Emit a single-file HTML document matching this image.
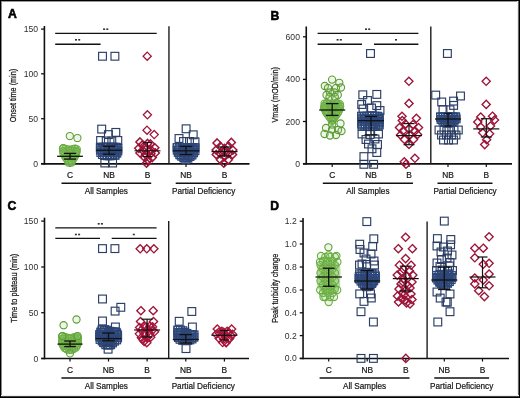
<!DOCTYPE html>
<html><head><meta charset="utf-8"><style>
html,body{margin:0;padding:0;background:#fff;}
body{width:520px;height:398px;overflow:hidden;position:relative;font-family:"Liberation Sans",sans-serif;}
svg{position:absolute;left:0;top:0;display:block;filter:blur(0.35px);}
.bd{position:absolute;background:#000;}
</style></head><body>
<svg width="520" height="398" viewBox="0 0 520 398" font-family="Liberation Sans, sans-serif">
<rect width="520" height="398" fill="#fff"/>
<line x1="44.40" y1="26.00" x2="44.40" y2="164.65" stroke="#111" stroke-width="1.6"/>
<line x1="41.10" y1="163.90" x2="249.50" y2="163.90" stroke="#111" stroke-width="1.6"/>
<line x1="168.95" y1="26.30" x2="168.95" y2="163.90" stroke="#1c1c1c" stroke-width="1.4"/>
<line x1="41.10" y1="29.10" x2="44.40" y2="29.10" stroke="#111" stroke-width="1.3"/>
<text x="38.10" y="32.10" font-size="8.6" text-anchor="end" fill="#2e2e2e" font-weight="normal" >150</text>
<line x1="41.10" y1="73.80" x2="44.40" y2="73.80" stroke="#111" stroke-width="1.3"/>
<text x="38.10" y="76.80" font-size="8.6" text-anchor="end" fill="#2e2e2e" font-weight="normal" >100</text>
<line x1="41.10" y1="118.70" x2="44.40" y2="118.70" stroke="#111" stroke-width="1.3"/>
<text x="38.10" y="121.70" font-size="8.6" text-anchor="end" fill="#2e2e2e" font-weight="normal" >50</text>
<line x1="41.10" y1="163.60" x2="44.40" y2="163.60" stroke="#111" stroke-width="1.3"/>
<text x="38.10" y="166.60" font-size="8.6" text-anchor="end" fill="#2e2e2e" font-weight="normal" >0</text>
<line x1="70.00" y1="163.90" x2="70.00" y2="166.90" stroke="#111" stroke-width="1.2"/>
<text x="70.00" y="177.90" font-size="8.4" text-anchor="middle" fill="#161616" font-weight="normal" stroke="#161616" stroke-width="0.2">C</text>
<line x1="109.00" y1="163.90" x2="109.00" y2="166.90" stroke="#111" stroke-width="1.2"/>
<text x="109.00" y="177.90" font-size="8.4" text-anchor="middle" fill="#161616" font-weight="normal" stroke="#161616" stroke-width="0.2">NB</text>
<line x1="147.50" y1="163.90" x2="147.50" y2="166.90" stroke="#111" stroke-width="1.2"/>
<text x="147.50" y="177.90" font-size="8.4" text-anchor="middle" fill="#161616" font-weight="normal" stroke="#161616" stroke-width="0.2">B</text>
<line x1="186.00" y1="163.90" x2="186.00" y2="166.90" stroke="#111" stroke-width="1.2"/>
<text x="186.00" y="177.90" font-size="8.4" text-anchor="middle" fill="#161616" font-weight="normal" stroke="#161616" stroke-width="0.2">NB</text>
<line x1="224.50" y1="163.90" x2="224.50" y2="166.90" stroke="#111" stroke-width="1.2"/>
<text x="224.50" y="177.90" font-size="8.4" text-anchor="middle" fill="#161616" font-weight="normal" stroke="#161616" stroke-width="0.2">B</text>
<line x1="61.50" y1="183.30" x2="151.20" y2="183.30" stroke="#111" stroke-width="1.45"/>
<line x1="175.70" y1="183.30" x2="231.60" y2="183.30" stroke="#111" stroke-width="1.45"/>
<text x="106.35" y="193.70" font-size="8.2" text-anchor="middle" fill="#161616" font-weight="normal" stroke="#161616" stroke-width="0.2">All Samples</text>
<text x="203.65" y="193.70" font-size="8.2" text-anchor="middle" fill="#161616" font-weight="normal" stroke="#161616" stroke-width="0.2">Partial Deficiency</text>
<text transform="translate(16.40,95.60) rotate(-90)" x="0" y="0" font-size="8.8" text-anchor="middle" fill="#161616" stroke="#161616" stroke-width="0.25" textLength="53.5" lengthAdjust="spacingAndGlyphs">Onset time (min)</text>
<text x="12.50" y="17.80" font-size="12.2" text-anchor="middle" fill="#000" font-weight="bold" stroke="#000" stroke-width="0.55">A</text>
<line x1="55.20" y1="33.30" x2="156.70" y2="33.30" stroke="#111" stroke-width="1.35"/>
<rect x="103.10" y="28.40" width="2.0" height="1.6" fill="#333"/>
<rect x="106.30" y="28.40" width="2.0" height="1.6" fill="#333"/>
<line x1="55.20" y1="44.20" x2="100.60" y2="44.20" stroke="#111" stroke-width="1.35"/>
<rect x="75.00" y="39.00" width="2.0" height="1.6" fill="#333"/>
<rect x="78.20" y="39.00" width="2.0" height="1.6" fill="#333"/>
<circle cx="69.80" cy="136.00" r="3.6" fill="#8cc868" fill-opacity="0.16" stroke="#5f9c38" stroke-width="1.05"/>
<circle cx="77.40" cy="138.00" r="3.6" fill="#8cc868" fill-opacity="0.16" stroke="#5f9c38" stroke-width="1.05"/>
<circle cx="63.30" cy="148.20" r="3.6" fill="#8cc868" fill-opacity="0.16" stroke="#5f9c38" stroke-width="1.05"/>
<circle cx="63.00" cy="148.60" r="3.6" fill="#8cc868" fill-opacity="0.16" stroke="#6aae42" stroke-width="1.05"/>
<circle cx="75.00" cy="148.60" r="3.6" fill="#8cc868" fill-opacity="0.16" stroke="#6aae42" stroke-width="1.05"/>
<circle cx="64.20" cy="151.00" r="3.6" fill="#8cc868" fill-opacity="0.16" stroke="#6aae42" stroke-width="1.05"/>
<circle cx="66.60" cy="151.00" r="3.6" fill="#8cc868" fill-opacity="0.16" stroke="#6aae42" stroke-width="1.05"/>
<circle cx="69.00" cy="151.00" r="3.6" fill="#8cc868" fill-opacity="0.16" stroke="#6aae42" stroke-width="1.05"/>
<circle cx="71.40" cy="151.00" r="3.6" fill="#8cc868" fill-opacity="0.16" stroke="#6aae42" stroke-width="1.05"/>
<circle cx="73.80" cy="151.00" r="3.6" fill="#8cc868" fill-opacity="0.16" stroke="#6aae42" stroke-width="1.05"/>
<circle cx="76.20" cy="151.00" r="3.6" fill="#8cc868" fill-opacity="0.16" stroke="#6aae42" stroke-width="1.05"/>
<circle cx="65.40" cy="153.40" r="3.6" fill="#8cc868" fill-opacity="0.16" stroke="#6aae42" stroke-width="1.05"/>
<circle cx="67.80" cy="153.40" r="3.6" fill="#8cc868" fill-opacity="0.16" stroke="#6aae42" stroke-width="1.05"/>
<circle cx="70.20" cy="153.40" r="3.6" fill="#8cc868" fill-opacity="0.16" stroke="#6aae42" stroke-width="1.05"/>
<circle cx="72.60" cy="153.40" r="3.6" fill="#8cc868" fill-opacity="0.16" stroke="#6aae42" stroke-width="1.05"/>
<circle cx="75.00" cy="153.40" r="3.6" fill="#8cc868" fill-opacity="0.16" stroke="#6aae42" stroke-width="1.05"/>
<circle cx="66.60" cy="155.80" r="3.6" fill="#8cc868" fill-opacity="0.16" stroke="#6aae42" stroke-width="1.05"/>
<circle cx="69.00" cy="155.80" r="3.6" fill="#8cc868" fill-opacity="0.16" stroke="#6aae42" stroke-width="1.05"/>
<circle cx="71.40" cy="155.80" r="3.6" fill="#8cc868" fill-opacity="0.16" stroke="#6aae42" stroke-width="1.05"/>
<circle cx="73.80" cy="155.80" r="3.6" fill="#8cc868" fill-opacity="0.16" stroke="#6aae42" stroke-width="1.05"/>
<circle cx="67.80" cy="158.20" r="3.6" fill="#8cc868" fill-opacity="0.16" stroke="#6aae42" stroke-width="1.05"/>
<circle cx="70.20" cy="158.20" r="3.6" fill="#8cc868" fill-opacity="0.16" stroke="#6aae42" stroke-width="1.05"/>
<circle cx="72.60" cy="158.20" r="3.6" fill="#8cc868" fill-opacity="0.16" stroke="#6aae42" stroke-width="1.05"/>
<circle cx="69.00" cy="160.60" r="3.6" fill="#8cc868" fill-opacity="0.16" stroke="#6aae42" stroke-width="1.05"/>
<circle cx="71.40" cy="160.60" r="3.6" fill="#8cc868" fill-opacity="0.16" stroke="#6aae42" stroke-width="1.05"/>
<circle cx="63.00" cy="148.60" r="3.6" fill="#8cc868" fill-opacity="0.16" stroke="#6aae42" stroke-width="1.05"/>
<circle cx="65.46" cy="148.85" r="3.6" fill="#8cc868" fill-opacity="0.16" stroke="#6aae42" stroke-width="1.05"/>
<circle cx="67.87" cy="149.29" r="3.6" fill="#8cc868" fill-opacity="0.16" stroke="#6aae42" stroke-width="1.05"/>
<circle cx="70.21" cy="149.93" r="3.6" fill="#8cc868" fill-opacity="0.16" stroke="#6aae42" stroke-width="1.05"/>
<circle cx="72.56" cy="149.15" r="3.6" fill="#8cc868" fill-opacity="0.16" stroke="#6aae42" stroke-width="1.05"/>
<circle cx="74.99" cy="148.79" r="3.6" fill="#8cc868" fill-opacity="0.16" stroke="#6aae42" stroke-width="1.05"/>
<circle cx="76.77" cy="149.25" r="3.6" fill="#8cc868" fill-opacity="0.16" stroke="#6aae42" stroke-width="1.05"/>
<circle cx="76.66" cy="151.72" r="3.6" fill="#8cc868" fill-opacity="0.16" stroke="#6aae42" stroke-width="1.05"/>
<circle cx="76.10" cy="154.07" r="3.6" fill="#8cc868" fill-opacity="0.16" stroke="#6aae42" stroke-width="1.05"/>
<circle cx="75.05" cy="156.31" r="3.6" fill="#8cc868" fill-opacity="0.16" stroke="#6aae42" stroke-width="1.05"/>
<circle cx="73.79" cy="158.42" r="3.6" fill="#8cc868" fill-opacity="0.16" stroke="#6aae42" stroke-width="1.05"/>
<circle cx="72.29" cy="160.38" r="3.6" fill="#8cc868" fill-opacity="0.16" stroke="#6aae42" stroke-width="1.05"/>
<circle cx="70.60" cy="162.17" r="3.6" fill="#8cc868" fill-opacity="0.16" stroke="#6aae42" stroke-width="1.05"/>
<circle cx="68.89" cy="161.64" r="3.6" fill="#8cc868" fill-opacity="0.16" stroke="#6aae42" stroke-width="1.05"/>
<circle cx="67.26" cy="159.79" r="3.6" fill="#8cc868" fill-opacity="0.16" stroke="#6aae42" stroke-width="1.05"/>
<circle cx="65.76" cy="157.83" r="3.6" fill="#8cc868" fill-opacity="0.16" stroke="#6aae42" stroke-width="1.05"/>
<circle cx="64.57" cy="155.67" r="3.6" fill="#8cc868" fill-opacity="0.16" stroke="#6aae42" stroke-width="1.05"/>
<circle cx="63.44" cy="153.48" r="3.6" fill="#8cc868" fill-opacity="0.16" stroke="#6aae42" stroke-width="1.05"/>
<circle cx="63.11" cy="151.07" r="3.6" fill="#8cc868" fill-opacity="0.16" stroke="#6aae42" stroke-width="1.05"/>
<circle cx="68.40" cy="162.60" r="3.6" fill="#8cc868" fill-opacity="0.16" stroke="#6aae42" stroke-width="1.05"/>
<circle cx="71.60" cy="162.60" r="3.6" fill="#8cc868" fill-opacity="0.16" stroke="#6aae42" stroke-width="1.05"/>
<line x1="57.10" y1="156.30" x2="82.90" y2="156.30" stroke="#111" stroke-width="1.3"/>
<line x1="70.00" y1="153.40" x2="70.00" y2="159.10" stroke="#111" stroke-width="1.3"/>
<line x1="63.90" y1="153.40" x2="76.10" y2="153.40" stroke="#111" stroke-width="1.3"/>
<line x1="63.90" y1="159.10" x2="76.10" y2="159.10" stroke="#111" stroke-width="1.3"/>
<rect x="98.60" y="52.35" width="7.80" height="7.80" fill="none" stroke="#2b3e65" stroke-width="1.15"/>
<rect x="111.00" y="52.35" width="7.80" height="7.80" fill="none" stroke="#2b3e65" stroke-width="1.15"/>
<rect x="97.80" y="125.20" width="7.80" height="7.80" fill="none" stroke="#2b3e65" stroke-width="1.15"/>
<rect x="111.90" y="128.50" width="7.80" height="7.80" fill="none" stroke="#2b3e65" stroke-width="1.15"/>
<rect x="104.50" y="130.70" width="7.80" height="7.80" fill="none" stroke="#2b3e65" stroke-width="1.15"/>
<rect x="96.50" y="143.40" width="7.80" height="7.80" fill="none" stroke="#2d4778" stroke-width="1.15"/>
<rect x="99.10" y="143.40" width="7.80" height="7.80" fill="none" stroke="#2d4778" stroke-width="1.15"/>
<rect x="101.70" y="143.40" width="7.80" height="7.80" fill="none" stroke="#2d4778" stroke-width="1.15"/>
<rect x="104.30" y="143.40" width="7.80" height="7.80" fill="none" stroke="#2d4778" stroke-width="1.15"/>
<rect x="106.90" y="143.40" width="7.80" height="7.80" fill="none" stroke="#2d4778" stroke-width="1.15"/>
<rect x="109.50" y="143.40" width="7.80" height="7.80" fill="none" stroke="#2d4778" stroke-width="1.15"/>
<rect x="112.10" y="143.40" width="7.80" height="7.80" fill="none" stroke="#2d4778" stroke-width="1.15"/>
<rect x="97.80" y="146.00" width="7.80" height="7.80" fill="none" stroke="#2d4778" stroke-width="1.15"/>
<rect x="100.40" y="146.00" width="7.80" height="7.80" fill="none" stroke="#2d4778" stroke-width="1.15"/>
<rect x="103.00" y="146.00" width="7.80" height="7.80" fill="none" stroke="#2d4778" stroke-width="1.15"/>
<rect x="105.60" y="146.00" width="7.80" height="7.80" fill="none" stroke="#2d4778" stroke-width="1.15"/>
<rect x="108.20" y="146.00" width="7.80" height="7.80" fill="none" stroke="#2d4778" stroke-width="1.15"/>
<rect x="110.80" y="146.00" width="7.80" height="7.80" fill="none" stroke="#2d4778" stroke-width="1.15"/>
<rect x="113.40" y="146.00" width="7.80" height="7.80" fill="none" stroke="#2d4778" stroke-width="1.15"/>
<rect x="99.10" y="148.60" width="7.80" height="7.80" fill="none" stroke="#2d4778" stroke-width="1.15"/>
<rect x="101.70" y="148.60" width="7.80" height="7.80" fill="none" stroke="#2d4778" stroke-width="1.15"/>
<rect x="104.30" y="148.60" width="7.80" height="7.80" fill="none" stroke="#2d4778" stroke-width="1.15"/>
<rect x="106.90" y="148.60" width="7.80" height="7.80" fill="none" stroke="#2d4778" stroke-width="1.15"/>
<rect x="109.50" y="148.60" width="7.80" height="7.80" fill="none" stroke="#2d4778" stroke-width="1.15"/>
<rect x="112.10" y="148.60" width="7.80" height="7.80" fill="none" stroke="#2d4778" stroke-width="1.15"/>
<rect x="100.40" y="151.20" width="7.80" height="7.80" fill="none" stroke="#2d4778" stroke-width="1.15"/>
<rect x="103.00" y="151.20" width="7.80" height="7.80" fill="none" stroke="#2d4778" stroke-width="1.15"/>
<rect x="105.60" y="151.20" width="7.80" height="7.80" fill="none" stroke="#2d4778" stroke-width="1.15"/>
<rect x="108.20" y="151.20" width="7.80" height="7.80" fill="none" stroke="#2d4778" stroke-width="1.15"/>
<rect x="110.80" y="151.20" width="7.80" height="7.80" fill="none" stroke="#2d4778" stroke-width="1.15"/>
<rect x="96.50" y="143.40" width="7.80" height="7.80" fill="none" stroke="#2d4778" stroke-width="1.15"/>
<rect x="99.14" y="143.40" width="7.80" height="7.80" fill="none" stroke="#2d4778" stroke-width="1.15"/>
<rect x="101.79" y="143.40" width="7.80" height="7.80" fill="none" stroke="#2d4778" stroke-width="1.15"/>
<rect x="104.43" y="143.40" width="7.80" height="7.80" fill="none" stroke="#2d4778" stroke-width="1.15"/>
<rect x="107.07" y="143.40" width="7.80" height="7.80" fill="none" stroke="#2d4778" stroke-width="1.15"/>
<rect x="109.72" y="143.40" width="7.80" height="7.80" fill="none" stroke="#2d4778" stroke-width="1.15"/>
<rect x="112.36" y="143.40" width="7.80" height="7.80" fill="none" stroke="#2d4778" stroke-width="1.15"/>
<rect x="114.00" y="144.40" width="7.80" height="7.80" fill="none" stroke="#2d4778" stroke-width="1.15"/>
<rect x="114.00" y="147.04" width="7.80" height="7.80" fill="none" stroke="#2d4778" stroke-width="1.15"/>
<rect x="112.95" y="149.29" width="7.80" height="7.80" fill="none" stroke="#2d4778" stroke-width="1.15"/>
<rect x="111.21" y="151.28" width="7.80" height="7.80" fill="none" stroke="#2d4778" stroke-width="1.15"/>
<rect x="108.64" y="151.69" width="7.80" height="7.80" fill="none" stroke="#2d4778" stroke-width="1.15"/>
<rect x="106.01" y="151.99" width="7.80" height="7.80" fill="none" stroke="#2d4778" stroke-width="1.15"/>
<rect x="103.39" y="151.90" width="7.80" height="7.80" fill="none" stroke="#2d4778" stroke-width="1.15"/>
<rect x="100.76" y="151.59" width="7.80" height="7.80" fill="none" stroke="#2d4778" stroke-width="1.15"/>
<rect x="98.50" y="150.64" width="7.80" height="7.80" fill="none" stroke="#2d4778" stroke-width="1.15"/>
<rect x="96.86" y="148.56" width="7.80" height="7.80" fill="none" stroke="#2d4778" stroke-width="1.15"/>
<rect x="96.50" y="146.04" width="7.80" height="7.80" fill="none" stroke="#2d4778" stroke-width="1.15"/>
<rect x="96.70" y="136.60" width="7.80" height="7.80" fill="none" stroke="#2b3e65" stroke-width="1.15"/>
<rect x="102.30" y="137.10" width="7.80" height="7.80" fill="none" stroke="#2b3e65" stroke-width="1.15"/>
<rect x="107.90" y="137.10" width="7.80" height="7.80" fill="none" stroke="#2b3e65" stroke-width="1.15"/>
<rect x="113.90" y="136.60" width="7.80" height="7.80" fill="none" stroke="#2b3e65" stroke-width="1.15"/>
<rect x="100.90" y="159.10" width="7.80" height="7.80" fill="none" stroke="#2b3e65" stroke-width="1.15"/>
<rect x="108.70" y="159.10" width="7.80" height="7.80" fill="none" stroke="#2b3e65" stroke-width="1.15"/>
<line x1="96.00" y1="150.30" x2="122.00" y2="150.30" stroke="#111" stroke-width="1.3"/>
<line x1="109.00" y1="146.30" x2="109.00" y2="154.20" stroke="#111" stroke-width="1.3"/>
<line x1="102.70" y1="146.30" x2="115.30" y2="146.30" stroke="#111" stroke-width="1.3"/>
<line x1="102.70" y1="154.20" x2="115.30" y2="154.20" stroke="#111" stroke-width="1.3"/>
<path d="M147.20 52.10L151.30 56.20L147.20 60.30L143.10 56.20Z" fill="none" stroke="#9c1438" stroke-width="1.25"/>
<path d="M147.40 110.70L151.50 114.80L147.40 118.90L143.30 114.80Z" fill="none" stroke="#9c1438" stroke-width="1.25"/>
<path d="M147.00 126.10L151.10 130.20L147.00 134.30L142.90 130.20Z" fill="none" stroke="#9c1438" stroke-width="1.25"/>
<path d="M154.20 130.50L158.30 134.60L154.20 138.70L150.10 134.60Z" fill="none" stroke="#9c1438" stroke-width="1.25"/>
<path d="M140.00 137.90L144.10 142.00L140.00 146.10L135.90 142.00Z" fill="none" stroke="#9c1438" stroke-width="1.45"/>
<path d="M150.50 139.90L154.60 144.00L150.50 148.10L146.40 144.00Z" fill="none" stroke="#9c1438" stroke-width="1.45"/>
<path d="M145.30 143.20L149.40 147.30L145.30 151.40L141.20 147.30Z" fill="none" stroke="#9c1438" stroke-width="1.45"/>
<path d="M140.00 148.80L144.10 152.90L140.00 157.00L135.90 152.90Z" fill="none" stroke="#9c1438" stroke-width="1.45"/>
<path d="M145.70 150.40L149.80 154.50L145.70 158.60L141.60 154.50Z" fill="none" stroke="#9c1438" stroke-width="1.45"/>
<path d="M150.90 149.60L155.00 153.70L150.90 157.80L146.80 153.70Z" fill="none" stroke="#9c1438" stroke-width="1.45"/>
<path d="M155.30 148.80L159.40 152.90L155.30 157.00L151.20 152.90Z" fill="none" stroke="#9c1438" stroke-width="1.45"/>
<path d="M148.00 155.90L152.10 160.00L148.00 164.10L143.90 160.00Z" fill="none" stroke="#9c1438" stroke-width="1.45"/>
<path d="M144.90 153.60L149.00 157.70L144.90 161.80L140.80 157.70Z" fill="none" stroke="#9c1438" stroke-width="1.45"/>
<path d="M154.80 143.70L158.90 147.80L154.80 151.90L150.70 147.80Z" fill="none" stroke="#9c1438" stroke-width="1.45"/>
<path d="M138.80 144.20L142.90 148.30L138.80 152.40L134.70 148.30Z" fill="none" stroke="#9c1438" stroke-width="1.45"/>
<path d="M146.50 159.10L150.60 163.20L146.50 167.30L142.40 163.20Z" fill="none" stroke="#9c1438" stroke-width="1.45"/>
<path d="M143.00 146.60L147.10 150.70L143.00 154.80L138.90 150.70Z" fill="none" stroke="#9c1438" stroke-width="1.45"/>
<path d="M151.00 145.90L155.10 150.00L151.00 154.10L146.90 150.00Z" fill="none" stroke="#9c1438" stroke-width="1.45"/>
<path d="M152.20 153.40L156.30 157.50L152.20 161.60L148.10 157.50Z" fill="none" stroke="#9c1438" stroke-width="1.45"/>
<path d="M142.30 140.90L146.40 145.00L142.30 149.10L138.20 145.00Z" fill="none" stroke="#9c1438" stroke-width="1.45"/>
<path d="M147.60 139.40L151.70 143.50L147.60 147.60L143.50 143.50Z" fill="none" stroke="#9c1438" stroke-width="1.45"/>
<path d="M148.50 147.40L152.60 151.50L148.50 155.60L144.40 151.50Z" fill="none" stroke="#9c1438" stroke-width="1.45"/>
<line x1="134.50" y1="150.80" x2="160.50" y2="150.80" stroke="#111" stroke-width="1.05"/>
<line x1="147.50" y1="142.60" x2="147.50" y2="156.50" stroke="#111" stroke-width="1.05"/>
<line x1="143.00" y1="142.60" x2="152.00" y2="142.60" stroke="#111" stroke-width="1.05"/>
<line x1="143.00" y1="156.50" x2="152.00" y2="156.50" stroke="#111" stroke-width="1.05"/>
<rect x="182.20" y="124.90" width="7.80" height="7.80" fill="none" stroke="#2b3e65" stroke-width="1.15"/>
<rect x="189.30" y="130.90" width="7.80" height="7.80" fill="none" stroke="#2b3e65" stroke-width="1.15"/>
<rect x="175.10" y="134.60" width="7.80" height="7.80" fill="none" stroke="#2b3e65" stroke-width="1.15"/>
<rect x="179.60" y="137.60" width="7.80" height="7.80" fill="none" stroke="#2b3e65" stroke-width="1.15"/>
<rect x="185.60" y="137.60" width="7.80" height="7.80" fill="none" stroke="#2b3e65" stroke-width="1.15"/>
<rect x="191.10" y="137.90" width="7.80" height="7.80" fill="none" stroke="#2b3e65" stroke-width="1.15"/>
<rect x="173.30" y="143.70" width="7.80" height="7.80" fill="none" stroke="#2d4778" stroke-width="1.15"/>
<rect x="175.80" y="143.70" width="7.80" height="7.80" fill="none" stroke="#2d4778" stroke-width="1.15"/>
<rect x="178.30" y="143.70" width="7.80" height="7.80" fill="none" stroke="#2d4778" stroke-width="1.15"/>
<rect x="180.80" y="143.70" width="7.80" height="7.80" fill="none" stroke="#2d4778" stroke-width="1.15"/>
<rect x="183.30" y="143.70" width="7.80" height="7.80" fill="none" stroke="#2d4778" stroke-width="1.15"/>
<rect x="185.80" y="143.70" width="7.80" height="7.80" fill="none" stroke="#2d4778" stroke-width="1.15"/>
<rect x="188.30" y="143.70" width="7.80" height="7.80" fill="none" stroke="#2d4778" stroke-width="1.15"/>
<rect x="190.80" y="143.70" width="7.80" height="7.80" fill="none" stroke="#2d4778" stroke-width="1.15"/>
<rect x="174.55" y="146.20" width="7.80" height="7.80" fill="none" stroke="#2d4778" stroke-width="1.15"/>
<rect x="177.05" y="146.20" width="7.80" height="7.80" fill="none" stroke="#2d4778" stroke-width="1.15"/>
<rect x="179.55" y="146.20" width="7.80" height="7.80" fill="none" stroke="#2d4778" stroke-width="1.15"/>
<rect x="182.05" y="146.20" width="7.80" height="7.80" fill="none" stroke="#2d4778" stroke-width="1.15"/>
<rect x="184.55" y="146.20" width="7.80" height="7.80" fill="none" stroke="#2d4778" stroke-width="1.15"/>
<rect x="187.05" y="146.20" width="7.80" height="7.80" fill="none" stroke="#2d4778" stroke-width="1.15"/>
<rect x="189.55" y="146.20" width="7.80" height="7.80" fill="none" stroke="#2d4778" stroke-width="1.15"/>
<rect x="175.80" y="148.70" width="7.80" height="7.80" fill="none" stroke="#2d4778" stroke-width="1.15"/>
<rect x="178.30" y="148.70" width="7.80" height="7.80" fill="none" stroke="#2d4778" stroke-width="1.15"/>
<rect x="180.80" y="148.70" width="7.80" height="7.80" fill="none" stroke="#2d4778" stroke-width="1.15"/>
<rect x="183.30" y="148.70" width="7.80" height="7.80" fill="none" stroke="#2d4778" stroke-width="1.15"/>
<rect x="185.80" y="148.70" width="7.80" height="7.80" fill="none" stroke="#2d4778" stroke-width="1.15"/>
<rect x="188.30" y="148.70" width="7.80" height="7.80" fill="none" stroke="#2d4778" stroke-width="1.15"/>
<rect x="177.05" y="151.20" width="7.80" height="7.80" fill="none" stroke="#2d4778" stroke-width="1.15"/>
<rect x="179.55" y="151.20" width="7.80" height="7.80" fill="none" stroke="#2d4778" stroke-width="1.15"/>
<rect x="182.05" y="151.20" width="7.80" height="7.80" fill="none" stroke="#2d4778" stroke-width="1.15"/>
<rect x="184.55" y="151.20" width="7.80" height="7.80" fill="none" stroke="#2d4778" stroke-width="1.15"/>
<rect x="187.05" y="151.20" width="7.80" height="7.80" fill="none" stroke="#2d4778" stroke-width="1.15"/>
<rect x="180.80" y="153.70" width="7.80" height="7.80" fill="none" stroke="#2d4778" stroke-width="1.15"/>
<rect x="183.30" y="153.70" width="7.80" height="7.80" fill="none" stroke="#2d4778" stroke-width="1.15"/>
<rect x="173.30" y="143.70" width="7.80" height="7.80" fill="none" stroke="#2d4778" stroke-width="1.15"/>
<rect x="175.91" y="143.70" width="7.80" height="7.80" fill="none" stroke="#2d4778" stroke-width="1.15"/>
<rect x="178.52" y="143.70" width="7.80" height="7.80" fill="none" stroke="#2d4778" stroke-width="1.15"/>
<rect x="181.13" y="143.70" width="7.80" height="7.80" fill="none" stroke="#2d4778" stroke-width="1.15"/>
<rect x="183.74" y="143.70" width="7.80" height="7.80" fill="none" stroke="#2d4778" stroke-width="1.15"/>
<rect x="186.35" y="143.70" width="7.80" height="7.80" fill="none" stroke="#2d4778" stroke-width="1.15"/>
<rect x="188.96" y="143.70" width="7.80" height="7.80" fill="none" stroke="#2d4778" stroke-width="1.15"/>
<rect x="191.10" y="144.17" width="7.80" height="7.80" fill="none" stroke="#2d4778" stroke-width="1.15"/>
<rect x="191.10" y="146.79" width="7.80" height="7.80" fill="none" stroke="#2d4778" stroke-width="1.15"/>
<rect x="189.72" y="148.94" width="7.80" height="7.80" fill="none" stroke="#2d4778" stroke-width="1.15"/>
<rect x="188.16" y="151.03" width="7.80" height="7.80" fill="none" stroke="#2d4778" stroke-width="1.15"/>
<rect x="186.10" y="152.63" width="7.80" height="7.80" fill="none" stroke="#2d4778" stroke-width="1.15"/>
<rect x="184.03" y="154.22" width="7.80" height="7.80" fill="none" stroke="#2d4778" stroke-width="1.15"/>
<rect x="181.96" y="155.59" width="7.80" height="7.80" fill="none" stroke="#2d4778" stroke-width="1.15"/>
<rect x="179.89" y="154.00" width="7.80" height="7.80" fill="none" stroke="#2d4778" stroke-width="1.15"/>
<rect x="177.81" y="152.41" width="7.80" height="7.80" fill="none" stroke="#2d4778" stroke-width="1.15"/>
<rect x="175.84" y="150.73" width="7.80" height="7.80" fill="none" stroke="#2d4778" stroke-width="1.15"/>
<rect x="174.34" y="148.59" width="7.80" height="7.80" fill="none" stroke="#2d4778" stroke-width="1.15"/>
<rect x="173.30" y="146.31" width="7.80" height="7.80" fill="none" stroke="#2d4778" stroke-width="1.15"/>
<line x1="173.00" y1="150.80" x2="199.00" y2="150.80" stroke="#111" stroke-width="1.3"/>
<line x1="186.00" y1="146.40" x2="186.00" y2="154.60" stroke="#111" stroke-width="1.3"/>
<line x1="179.70" y1="146.40" x2="192.30" y2="146.40" stroke="#111" stroke-width="1.3"/>
<line x1="179.70" y1="154.60" x2="192.30" y2="154.60" stroke="#111" stroke-width="1.3"/>
<path d="M217.10 138.90L221.20 143.00L217.10 147.10L213.00 143.00Z" fill="none" stroke="#9c1438" stroke-width="1.45"/>
<path d="M231.30 138.30L235.40 142.40L231.30 146.50L227.20 142.40Z" fill="none" stroke="#9c1438" stroke-width="1.45"/>
<path d="M220.50 142.40L224.60 146.50L220.50 150.60L216.40 146.50Z" fill="none" stroke="#9c1438" stroke-width="1.45"/>
<path d="M228.50 142.10L232.60 146.20L228.50 150.30L224.40 146.20Z" fill="none" stroke="#9c1438" stroke-width="1.45"/>
<path d="M216.20 145.90L220.30 150.00L216.20 154.10L212.10 150.00Z" fill="none" stroke="#9c1438" stroke-width="1.45"/>
<path d="M224.50 144.40L228.60 148.50L224.50 152.60L220.40 148.50Z" fill="none" stroke="#9c1438" stroke-width="1.45"/>
<path d="M232.80 145.90L236.90 150.00L232.80 154.10L228.70 150.00Z" fill="none" stroke="#9c1438" stroke-width="1.45"/>
<path d="M220.30 149.40L224.40 153.50L220.30 157.60L216.20 153.50Z" fill="none" stroke="#9c1438" stroke-width="1.45"/>
<path d="M228.60 149.20L232.70 153.30L228.60 157.40L224.50 153.30Z" fill="none" stroke="#9c1438" stroke-width="1.45"/>
<path d="M224.50 152.40L228.60 156.50L224.50 160.60L220.40 156.50Z" fill="none" stroke="#9c1438" stroke-width="1.45"/>
<path d="M216.30 150.40L220.40 154.50L216.30 158.60L212.20 154.50Z" fill="none" stroke="#9c1438" stroke-width="1.45"/>
<path d="M232.50 150.40L236.60 154.50L232.50 158.60L228.40 154.50Z" fill="none" stroke="#9c1438" stroke-width="1.45"/>
<path d="M220.50 155.70L224.60 159.80L220.50 163.90L216.40 159.80Z" fill="none" stroke="#9c1438" stroke-width="1.45"/>
<path d="M228.20 155.70L232.30 159.80L228.20 163.90L224.10 159.80Z" fill="none" stroke="#9c1438" stroke-width="1.45"/>
<path d="M223.80 159.10L227.90 163.20L223.80 167.30L219.70 163.20Z" fill="none" stroke="#9c1438" stroke-width="1.45"/>
<path d="M224.30 147.90L228.40 152.00L224.30 156.10L220.20 152.00Z" fill="none" stroke="#9c1438" stroke-width="1.45"/>
<line x1="211.50" y1="151.60" x2="237.50" y2="151.60" stroke="#111" stroke-width="1.3"/>
<line x1="224.50" y1="147.00" x2="224.50" y2="156.00" stroke="#111" stroke-width="1.3"/>
<line x1="218.20" y1="147.00" x2="230.80" y2="147.00" stroke="#111" stroke-width="1.3"/>
<line x1="218.20" y1="156.00" x2="230.80" y2="156.00" stroke="#111" stroke-width="1.3"/>
<line x1="306.25" y1="26.50" x2="306.25" y2="164.65" stroke="#111" stroke-width="1.6"/>
<line x1="302.95" y1="163.90" x2="512.00" y2="163.90" stroke="#111" stroke-width="1.6"/>
<line x1="430.80" y1="26.40" x2="430.80" y2="163.90" stroke="#1c1c1c" stroke-width="1.4"/>
<line x1="302.95" y1="36.80" x2="306.25" y2="36.80" stroke="#111" stroke-width="1.3"/>
<text x="299.95" y="39.80" font-size="8.6" text-anchor="end" fill="#2e2e2e" font-weight="normal" >600</text>
<line x1="302.95" y1="79.40" x2="306.25" y2="79.40" stroke="#111" stroke-width="1.3"/>
<text x="299.95" y="82.40" font-size="8.6" text-anchor="end" fill="#2e2e2e" font-weight="normal" >400</text>
<line x1="302.95" y1="121.50" x2="306.25" y2="121.50" stroke="#111" stroke-width="1.3"/>
<text x="299.95" y="124.50" font-size="8.6" text-anchor="end" fill="#2e2e2e" font-weight="normal" >200</text>
<line x1="302.95" y1="163.60" x2="306.25" y2="163.60" stroke="#111" stroke-width="1.3"/>
<text x="299.95" y="166.60" font-size="8.6" text-anchor="end" fill="#2e2e2e" font-weight="normal" >0</text>
<line x1="332.20" y1="163.90" x2="332.20" y2="166.90" stroke="#111" stroke-width="1.2"/>
<text x="332.20" y="177.90" font-size="8.4" text-anchor="middle" fill="#161616" font-weight="normal" stroke="#161616" stroke-width="0.2">C</text>
<line x1="371.00" y1="163.90" x2="371.00" y2="166.90" stroke="#111" stroke-width="1.2"/>
<text x="371.00" y="177.90" font-size="8.4" text-anchor="middle" fill="#161616" font-weight="normal" stroke="#161616" stroke-width="0.2">NB</text>
<line x1="409.00" y1="163.90" x2="409.00" y2="166.90" stroke="#111" stroke-width="1.2"/>
<text x="409.00" y="177.90" font-size="8.4" text-anchor="middle" fill="#161616" font-weight="normal" stroke="#161616" stroke-width="0.2">B</text>
<line x1="448.00" y1="163.90" x2="448.00" y2="166.90" stroke="#111" stroke-width="1.2"/>
<text x="448.00" y="177.90" font-size="8.4" text-anchor="middle" fill="#161616" font-weight="normal" stroke="#161616" stroke-width="0.2">NB</text>
<line x1="486.30" y1="163.90" x2="486.30" y2="166.90" stroke="#111" stroke-width="1.2"/>
<text x="486.30" y="177.90" font-size="8.4" text-anchor="middle" fill="#161616" font-weight="normal" stroke="#161616" stroke-width="0.2">B</text>
<line x1="322.80" y1="183.30" x2="413.00" y2="183.30" stroke="#111" stroke-width="1.45"/>
<line x1="437.50" y1="183.30" x2="492.50" y2="183.30" stroke="#111" stroke-width="1.45"/>
<text x="367.90" y="193.70" font-size="8.2" text-anchor="middle" fill="#161616" font-weight="normal" stroke="#161616" stroke-width="0.2">All Samples</text>
<text x="465.00" y="193.70" font-size="8.2" text-anchor="middle" fill="#161616" font-weight="normal" stroke="#161616" stroke-width="0.2">Partial Deficiency</text>
<text transform="translate(278.40,94.80) rotate(-90)" x="0" y="0" font-size="8.8" text-anchor="middle" fill="#161616" stroke="#161616" stroke-width="0.25" textLength="55.5" lengthAdjust="spacingAndGlyphs">Vmax (mOD/min)</text>
<text x="274.90" y="20.10" font-size="12.2" text-anchor="middle" fill="#000" font-weight="bold" stroke="#000" stroke-width="0.55">B</text>
<line x1="317.60" y1="33.40" x2="418.40" y2="33.40" stroke="#111" stroke-width="1.35"/>
<rect x="365.00" y="28.40" width="2.0" height="1.6" fill="#333"/>
<rect x="368.20" y="28.40" width="2.0" height="1.6" fill="#333"/>
<line x1="317.60" y1="44.20" x2="362.00" y2="44.20" stroke="#111" stroke-width="1.35"/>
<rect x="336.60" y="39.00" width="2.0" height="1.6" fill="#333"/>
<rect x="339.80" y="39.00" width="2.0" height="1.6" fill="#333"/>
<line x1="374.00" y1="44.20" x2="418.40" y2="44.20" stroke="#111" stroke-width="1.35"/>
<rect x="395.00" y="39.00" width="2.0" height="1.6" fill="#333"/>
<circle cx="332.10" cy="79.60" r="3.6" fill="#8cc868" fill-opacity="0.16" stroke="#5f9c38" stroke-width="1.1"/>
<circle cx="339.30" cy="82.80" r="3.6" fill="#8cc868" fill-opacity="0.16" stroke="#5f9c38" stroke-width="1.1"/>
<circle cx="324.80" cy="86.00" r="3.6" fill="#8cc868" fill-opacity="0.16" stroke="#5f9c38" stroke-width="1.1"/>
<circle cx="328.00" cy="88.00" r="3.6" fill="#8cc868" fill-opacity="0.16" stroke="#5f9c38" stroke-width="1.1"/>
<circle cx="336.00" cy="88.00" r="3.6" fill="#8cc868" fill-opacity="0.16" stroke="#5f9c38" stroke-width="1.1"/>
<circle cx="341.00" cy="87.50" r="3.6" fill="#8cc868" fill-opacity="0.16" stroke="#5f9c38" stroke-width="1.1"/>
<circle cx="330.00" cy="92.50" r="3.6" fill="#8cc868" fill-opacity="0.16" stroke="#5f9c38" stroke-width="1.1"/>
<circle cx="334.50" cy="92.50" r="3.6" fill="#8cc868" fill-opacity="0.16" stroke="#5f9c38" stroke-width="1.1"/>
<circle cx="326.50" cy="95.00" r="3.6" fill="#8cc868" fill-opacity="0.16" stroke="#5f9c38" stroke-width="1.1"/>
<circle cx="337.80" cy="95.00" r="3.6" fill="#8cc868" fill-opacity="0.16" stroke="#5f9c38" stroke-width="1.1"/>
<circle cx="329.50" cy="97.00" r="3.6" fill="#8cc868" fill-opacity="0.16" stroke="#5f9c38" stroke-width="1.1"/>
<circle cx="334.80" cy="97.00" r="3.6" fill="#8cc868" fill-opacity="0.16" stroke="#5f9c38" stroke-width="1.1"/>
<circle cx="326.60" cy="103.20" r="3.6" fill="#8cc868" fill-opacity="0.16" stroke="#6aae42" stroke-width="1.05"/>
<circle cx="336.20" cy="103.20" r="3.6" fill="#8cc868" fill-opacity="0.16" stroke="#6aae42" stroke-width="1.05"/>
<circle cx="325.40" cy="105.60" r="3.6" fill="#8cc868" fill-opacity="0.16" stroke="#6aae42" stroke-width="1.05"/>
<circle cx="327.80" cy="105.60" r="3.6" fill="#8cc868" fill-opacity="0.16" stroke="#6aae42" stroke-width="1.05"/>
<circle cx="330.20" cy="105.60" r="3.6" fill="#8cc868" fill-opacity="0.16" stroke="#6aae42" stroke-width="1.05"/>
<circle cx="332.60" cy="105.60" r="3.6" fill="#8cc868" fill-opacity="0.16" stroke="#6aae42" stroke-width="1.05"/>
<circle cx="335.00" cy="105.60" r="3.6" fill="#8cc868" fill-opacity="0.16" stroke="#6aae42" stroke-width="1.05"/>
<circle cx="337.40" cy="105.60" r="3.6" fill="#8cc868" fill-opacity="0.16" stroke="#6aae42" stroke-width="1.05"/>
<circle cx="339.80" cy="105.60" r="3.6" fill="#8cc868" fill-opacity="0.16" stroke="#6aae42" stroke-width="1.05"/>
<circle cx="324.20" cy="108.00" r="3.6" fill="#8cc868" fill-opacity="0.16" stroke="#6aae42" stroke-width="1.05"/>
<circle cx="326.60" cy="108.00" r="3.6" fill="#8cc868" fill-opacity="0.16" stroke="#6aae42" stroke-width="1.05"/>
<circle cx="329.00" cy="108.00" r="3.6" fill="#8cc868" fill-opacity="0.16" stroke="#6aae42" stroke-width="1.05"/>
<circle cx="331.40" cy="108.00" r="3.6" fill="#8cc868" fill-opacity="0.16" stroke="#6aae42" stroke-width="1.05"/>
<circle cx="333.80" cy="108.00" r="3.6" fill="#8cc868" fill-opacity="0.16" stroke="#6aae42" stroke-width="1.05"/>
<circle cx="336.20" cy="108.00" r="3.6" fill="#8cc868" fill-opacity="0.16" stroke="#6aae42" stroke-width="1.05"/>
<circle cx="338.60" cy="108.00" r="3.6" fill="#8cc868" fill-opacity="0.16" stroke="#6aae42" stroke-width="1.05"/>
<circle cx="325.40" cy="110.40" r="3.6" fill="#8cc868" fill-opacity="0.16" stroke="#6aae42" stroke-width="1.05"/>
<circle cx="327.80" cy="110.40" r="3.6" fill="#8cc868" fill-opacity="0.16" stroke="#6aae42" stroke-width="1.05"/>
<circle cx="330.20" cy="110.40" r="3.6" fill="#8cc868" fill-opacity="0.16" stroke="#6aae42" stroke-width="1.05"/>
<circle cx="332.60" cy="110.40" r="3.6" fill="#8cc868" fill-opacity="0.16" stroke="#6aae42" stroke-width="1.05"/>
<circle cx="335.00" cy="110.40" r="3.6" fill="#8cc868" fill-opacity="0.16" stroke="#6aae42" stroke-width="1.05"/>
<circle cx="337.40" cy="110.40" r="3.6" fill="#8cc868" fill-opacity="0.16" stroke="#6aae42" stroke-width="1.05"/>
<circle cx="326.60" cy="112.80" r="3.6" fill="#8cc868" fill-opacity="0.16" stroke="#6aae42" stroke-width="1.05"/>
<circle cx="329.00" cy="112.80" r="3.6" fill="#8cc868" fill-opacity="0.16" stroke="#6aae42" stroke-width="1.05"/>
<circle cx="331.40" cy="112.80" r="3.6" fill="#8cc868" fill-opacity="0.16" stroke="#6aae42" stroke-width="1.05"/>
<circle cx="333.80" cy="112.80" r="3.6" fill="#8cc868" fill-opacity="0.16" stroke="#6aae42" stroke-width="1.05"/>
<circle cx="336.20" cy="112.80" r="3.6" fill="#8cc868" fill-opacity="0.16" stroke="#6aae42" stroke-width="1.05"/>
<circle cx="330.20" cy="115.20" r="3.6" fill="#8cc868" fill-opacity="0.16" stroke="#6aae42" stroke-width="1.05"/>
<circle cx="332.60" cy="115.20" r="3.6" fill="#8cc868" fill-opacity="0.16" stroke="#6aae42" stroke-width="1.05"/>
<circle cx="335.00" cy="115.20" r="3.6" fill="#8cc868" fill-opacity="0.16" stroke="#6aae42" stroke-width="1.05"/>
<circle cx="331.40" cy="117.60" r="3.6" fill="#8cc868" fill-opacity="0.16" stroke="#6aae42" stroke-width="1.05"/>
<circle cx="333.80" cy="117.60" r="3.6" fill="#8cc868" fill-opacity="0.16" stroke="#6aae42" stroke-width="1.05"/>
<circle cx="332.60" cy="120.00" r="3.6" fill="#8cc868" fill-opacity="0.16" stroke="#6aae42" stroke-width="1.05"/>
<circle cx="324.60" cy="103.50" r="3.6" fill="#8cc868" fill-opacity="0.16" stroke="#6aae42" stroke-width="1.05"/>
<circle cx="327.04" cy="103.32" r="3.6" fill="#8cc868" fill-opacity="0.16" stroke="#6aae42" stroke-width="1.05"/>
<circle cx="329.34" cy="103.68" r="3.6" fill="#8cc868" fill-opacity="0.16" stroke="#6aae42" stroke-width="1.05"/>
<circle cx="331.41" cy="104.99" r="3.6" fill="#8cc868" fill-opacity="0.16" stroke="#6aae42" stroke-width="1.05"/>
<circle cx="333.47" cy="104.69" r="3.6" fill="#8cc868" fill-opacity="0.16" stroke="#6aae42" stroke-width="1.05"/>
<circle cx="335.53" cy="103.37" r="3.6" fill="#8cc868" fill-opacity="0.16" stroke="#6aae42" stroke-width="1.05"/>
<circle cx="337.92" cy="103.36" r="3.6" fill="#8cc868" fill-opacity="0.16" stroke="#6aae42" stroke-width="1.05"/>
<circle cx="339.86" cy="104.06" r="3.6" fill="#8cc868" fill-opacity="0.16" stroke="#6aae42" stroke-width="1.05"/>
<circle cx="340.13" cy="106.49" r="3.6" fill="#8cc868" fill-opacity="0.16" stroke="#6aae42" stroke-width="1.05"/>
<circle cx="339.88" cy="108.83" r="3.6" fill="#8cc868" fill-opacity="0.16" stroke="#6aae42" stroke-width="1.05"/>
<circle cx="338.79" cy="111.02" r="3.6" fill="#8cc868" fill-opacity="0.16" stroke="#6aae42" stroke-width="1.05"/>
<circle cx="337.66" cy="113.19" r="3.6" fill="#8cc868" fill-opacity="0.16" stroke="#6aae42" stroke-width="1.05"/>
<circle cx="336.23" cy="115.17" r="3.6" fill="#8cc868" fill-opacity="0.16" stroke="#6aae42" stroke-width="1.05"/>
<circle cx="334.80" cy="117.16" r="3.6" fill="#8cc868" fill-opacity="0.16" stroke="#6aae42" stroke-width="1.05"/>
<circle cx="333.42" cy="119.18" r="3.6" fill="#8cc868" fill-opacity="0.16" stroke="#6aae42" stroke-width="1.05"/>
<circle cx="332.06" cy="120.79" r="3.6" fill="#8cc868" fill-opacity="0.16" stroke="#6aae42" stroke-width="1.05"/>
<circle cx="330.70" cy="118.75" r="3.6" fill="#8cc868" fill-opacity="0.16" stroke="#6aae42" stroke-width="1.05"/>
<circle cx="329.30" cy="116.75" r="3.6" fill="#8cc868" fill-opacity="0.16" stroke="#6aae42" stroke-width="1.05"/>
<circle cx="327.87" cy="114.76" r="3.6" fill="#8cc868" fill-opacity="0.16" stroke="#6aae42" stroke-width="1.05"/>
<circle cx="326.48" cy="112.75" r="3.6" fill="#8cc868" fill-opacity="0.16" stroke="#6aae42" stroke-width="1.05"/>
<circle cx="325.42" cy="110.55" r="3.6" fill="#8cc868" fill-opacity="0.16" stroke="#6aae42" stroke-width="1.05"/>
<circle cx="324.36" cy="108.34" r="3.6" fill="#8cc868" fill-opacity="0.16" stroke="#6aae42" stroke-width="1.05"/>
<circle cx="324.38" cy="105.94" r="3.6" fill="#8cc868" fill-opacity="0.16" stroke="#6aae42" stroke-width="1.05"/>
<circle cx="332.20" cy="124.50" r="3.6" fill="#8cc868" fill-opacity="0.16" stroke="#5f9c38" stroke-width="1.1"/>
<circle cx="340.50" cy="123.50" r="3.6" fill="#8cc868" fill-opacity="0.16" stroke="#5f9c38" stroke-width="1.1"/>
<circle cx="326.00" cy="128.00" r="3.6" fill="#8cc868" fill-opacity="0.16" stroke="#5f9c38" stroke-width="1.1"/>
<circle cx="332.00" cy="129.50" r="3.6" fill="#8cc868" fill-opacity="0.16" stroke="#5f9c38" stroke-width="1.1"/>
<circle cx="338.00" cy="130.00" r="3.6" fill="#8cc868" fill-opacity="0.16" stroke="#5f9c38" stroke-width="1.1"/>
<circle cx="324.50" cy="134.00" r="3.6" fill="#8cc868" fill-opacity="0.16" stroke="#5f9c38" stroke-width="1.1"/>
<circle cx="330.00" cy="135.50" r="3.6" fill="#8cc868" fill-opacity="0.16" stroke="#5f9c38" stroke-width="1.1"/>
<circle cx="336.00" cy="135.00" r="3.6" fill="#8cc868" fill-opacity="0.16" stroke="#5f9c38" stroke-width="1.1"/>
<circle cx="341.50" cy="131.00" r="3.6" fill="#8cc868" fill-opacity="0.16" stroke="#5f9c38" stroke-width="1.1"/>
<line x1="319.20" y1="110.00" x2="345.20" y2="110.00" stroke="#111" stroke-width="1.3"/>
<line x1="332.20" y1="103.60" x2="332.20" y2="115.40" stroke="#111" stroke-width="1.3"/>
<line x1="325.90" y1="103.60" x2="338.50" y2="103.60" stroke="#111" stroke-width="1.3"/>
<line x1="325.90" y1="115.40" x2="338.50" y2="115.40" stroke="#111" stroke-width="1.3"/>
<rect x="366.60" y="49.60" width="7.80" height="7.80" fill="none" stroke="#2b3e65" stroke-width="1.15"/>
<rect x="358.90" y="90.90" width="7.80" height="7.80" fill="none" stroke="#2b3e65" stroke-width="1.15"/>
<rect x="372.90" y="90.50" width="7.80" height="7.80" fill="none" stroke="#2b3e65" stroke-width="1.15"/>
<rect x="357.80" y="100.60" width="7.80" height="7.80" fill="none" stroke="#2b3e65" stroke-width="1.15"/>
<rect x="372.90" y="101.70" width="7.80" height="7.80" fill="none" stroke="#2b3e65" stroke-width="1.15"/>
<rect x="363.60" y="96.60" width="7.80" height="7.80" fill="none" stroke="#2b3e65" stroke-width="1.15"/>
<rect x="367.60" y="104.10" width="7.80" height="7.80" fill="none" stroke="#2b3e65" stroke-width="1.15"/>
<rect x="359.10" y="105.10" width="7.80" height="7.80" fill="none" stroke="#2b3e65" stroke-width="1.15"/>
<rect x="376.10" y="106.60" width="7.80" height="7.80" fill="none" stroke="#2b3e65" stroke-width="1.15"/>
<rect x="357.70" y="112.40" width="7.80" height="7.80" fill="none" stroke="#2d4778" stroke-width="1.15"/>
<rect x="360.30" y="112.40" width="7.80" height="7.80" fill="none" stroke="#2d4778" stroke-width="1.15"/>
<rect x="362.90" y="112.40" width="7.80" height="7.80" fill="none" stroke="#2d4778" stroke-width="1.15"/>
<rect x="365.50" y="112.40" width="7.80" height="7.80" fill="none" stroke="#2d4778" stroke-width="1.15"/>
<rect x="368.10" y="112.40" width="7.80" height="7.80" fill="none" stroke="#2d4778" stroke-width="1.15"/>
<rect x="370.70" y="112.40" width="7.80" height="7.80" fill="none" stroke="#2d4778" stroke-width="1.15"/>
<rect x="373.30" y="112.40" width="7.80" height="7.80" fill="none" stroke="#2d4778" stroke-width="1.15"/>
<rect x="359.00" y="115.00" width="7.80" height="7.80" fill="none" stroke="#2d4778" stroke-width="1.15"/>
<rect x="361.60" y="115.00" width="7.80" height="7.80" fill="none" stroke="#2d4778" stroke-width="1.15"/>
<rect x="364.20" y="115.00" width="7.80" height="7.80" fill="none" stroke="#2d4778" stroke-width="1.15"/>
<rect x="366.80" y="115.00" width="7.80" height="7.80" fill="none" stroke="#2d4778" stroke-width="1.15"/>
<rect x="369.40" y="115.00" width="7.80" height="7.80" fill="none" stroke="#2d4778" stroke-width="1.15"/>
<rect x="372.00" y="115.00" width="7.80" height="7.80" fill="none" stroke="#2d4778" stroke-width="1.15"/>
<rect x="374.60" y="115.00" width="7.80" height="7.80" fill="none" stroke="#2d4778" stroke-width="1.15"/>
<rect x="357.70" y="117.60" width="7.80" height="7.80" fill="none" stroke="#2d4778" stroke-width="1.15"/>
<rect x="360.30" y="117.60" width="7.80" height="7.80" fill="none" stroke="#2d4778" stroke-width="1.15"/>
<rect x="362.90" y="117.60" width="7.80" height="7.80" fill="none" stroke="#2d4778" stroke-width="1.15"/>
<rect x="365.50" y="117.60" width="7.80" height="7.80" fill="none" stroke="#2d4778" stroke-width="1.15"/>
<rect x="368.10" y="117.60" width="7.80" height="7.80" fill="none" stroke="#2d4778" stroke-width="1.15"/>
<rect x="370.70" y="117.60" width="7.80" height="7.80" fill="none" stroke="#2d4778" stroke-width="1.15"/>
<rect x="373.30" y="117.60" width="7.80" height="7.80" fill="none" stroke="#2d4778" stroke-width="1.15"/>
<rect x="359.00" y="120.20" width="7.80" height="7.80" fill="none" stroke="#2d4778" stroke-width="1.15"/>
<rect x="361.60" y="120.20" width="7.80" height="7.80" fill="none" stroke="#2d4778" stroke-width="1.15"/>
<rect x="364.20" y="120.20" width="7.80" height="7.80" fill="none" stroke="#2d4778" stroke-width="1.15"/>
<rect x="366.80" y="120.20" width="7.80" height="7.80" fill="none" stroke="#2d4778" stroke-width="1.15"/>
<rect x="369.40" y="120.20" width="7.80" height="7.80" fill="none" stroke="#2d4778" stroke-width="1.15"/>
<rect x="372.00" y="120.20" width="7.80" height="7.80" fill="none" stroke="#2d4778" stroke-width="1.15"/>
<rect x="374.60" y="120.20" width="7.80" height="7.80" fill="none" stroke="#2d4778" stroke-width="1.15"/>
<rect x="357.70" y="112.40" width="7.80" height="7.80" fill="none" stroke="#2d4778" stroke-width="1.15"/>
<rect x="360.34" y="112.40" width="7.80" height="7.80" fill="none" stroke="#2d4778" stroke-width="1.15"/>
<rect x="362.98" y="112.40" width="7.80" height="7.80" fill="none" stroke="#2d4778" stroke-width="1.15"/>
<rect x="365.61" y="112.40" width="7.80" height="7.80" fill="none" stroke="#2d4778" stroke-width="1.15"/>
<rect x="368.25" y="112.40" width="7.80" height="7.80" fill="none" stroke="#2d4778" stroke-width="1.15"/>
<rect x="370.89" y="112.40" width="7.80" height="7.80" fill="none" stroke="#2d4778" stroke-width="1.15"/>
<rect x="373.53" y="112.40" width="7.80" height="7.80" fill="none" stroke="#2d4778" stroke-width="1.15"/>
<rect x="375.40" y="113.17" width="7.80" height="7.80" fill="none" stroke="#2d4778" stroke-width="1.15"/>
<rect x="375.40" y="115.80" width="7.80" height="7.80" fill="none" stroke="#2d4778" stroke-width="1.15"/>
<rect x="375.40" y="118.44" width="7.80" height="7.80" fill="none" stroke="#2d4778" stroke-width="1.15"/>
<rect x="375.40" y="121.08" width="7.80" height="7.80" fill="none" stroke="#2d4778" stroke-width="1.15"/>
<rect x="374.08" y="122.40" width="7.80" height="7.80" fill="none" stroke="#2d4778" stroke-width="1.15"/>
<rect x="371.44" y="122.40" width="7.80" height="7.80" fill="none" stroke="#2d4778" stroke-width="1.15"/>
<rect x="368.80" y="122.40" width="7.80" height="7.80" fill="none" stroke="#2d4778" stroke-width="1.15"/>
<rect x="366.17" y="122.40" width="7.80" height="7.80" fill="none" stroke="#2d4778" stroke-width="1.15"/>
<rect x="363.53" y="122.40" width="7.80" height="7.80" fill="none" stroke="#2d4778" stroke-width="1.15"/>
<rect x="360.89" y="122.40" width="7.80" height="7.80" fill="none" stroke="#2d4778" stroke-width="1.15"/>
<rect x="358.25" y="122.40" width="7.80" height="7.80" fill="none" stroke="#2d4778" stroke-width="1.15"/>
<rect x="357.70" y="120.31" width="7.80" height="7.80" fill="none" stroke="#2d4778" stroke-width="1.15"/>
<rect x="357.70" y="117.68" width="7.80" height="7.80" fill="none" stroke="#2d4778" stroke-width="1.15"/>
<rect x="357.70" y="115.04" width="7.80" height="7.80" fill="none" stroke="#2d4778" stroke-width="1.15"/>
<rect x="358.10" y="130.10" width="7.80" height="7.80" fill="none" stroke="#2b3e65" stroke-width="1.15"/>
<rect x="366.10" y="130.60" width="7.80" height="7.80" fill="none" stroke="#2b3e65" stroke-width="1.15"/>
<rect x="374.60" y="130.10" width="7.80" height="7.80" fill="none" stroke="#2b3e65" stroke-width="1.15"/>
<rect x="362.10" y="135.60" width="7.80" height="7.80" fill="none" stroke="#2b3e65" stroke-width="1.15"/>
<rect x="371.10" y="135.10" width="7.80" height="7.80" fill="none" stroke="#2b3e65" stroke-width="1.15"/>
<rect x="364.60" y="140.10" width="7.80" height="7.80" fill="none" stroke="#2b3e65" stroke-width="1.15"/>
<rect x="373.60" y="140.60" width="7.80" height="7.80" fill="none" stroke="#2b3e65" stroke-width="1.15"/>
<rect x="368.10" y="144.90" width="7.80" height="7.80" fill="none" stroke="#2b3e65" stroke-width="1.15"/>
<rect x="372.90" y="148.60" width="7.80" height="7.80" fill="none" stroke="#2b3e65" stroke-width="1.15"/>
<rect x="360.00" y="152.70" width="7.80" height="7.80" fill="none" stroke="#2b3e65" stroke-width="1.15"/>
<rect x="360.00" y="160.40" width="7.80" height="7.80" fill="none" stroke="#2b3e65" stroke-width="1.15"/>
<rect x="369.70" y="160.40" width="7.80" height="7.80" fill="none" stroke="#2b3e65" stroke-width="1.15"/>
<line x1="358.00" y1="120.70" x2="384.00" y2="120.70" stroke="#111" stroke-width="1.3"/>
<line x1="371.00" y1="116.40" x2="371.00" y2="134.80" stroke="#111" stroke-width="1.3"/>
<line x1="364.70" y1="116.40" x2="377.30" y2="116.40" stroke="#111" stroke-width="1.3"/>
<line x1="364.70" y1="134.80" x2="377.30" y2="134.80" stroke="#111" stroke-width="1.3"/>
<path d="M408.90 77.20L413.00 81.30L408.90 85.40L404.80 81.30Z" fill="none" stroke="#9c1438" stroke-width="1.35"/>
<path d="M409.00 99.30L413.10 103.40L409.00 107.50L404.90 103.40Z" fill="none" stroke="#9c1438" stroke-width="1.35"/>
<path d="M402.00 112.20L406.10 116.30L402.00 120.40L397.90 116.30Z" fill="none" stroke="#9c1438" stroke-width="1.35"/>
<path d="M416.40 114.20L420.50 118.30L416.40 122.40L412.30 118.30Z" fill="none" stroke="#9c1438" stroke-width="1.35"/>
<path d="M402.30 116.40L406.40 120.50L402.30 124.60L398.20 120.50Z" fill="none" stroke="#9c1438" stroke-width="1.35"/>
<path d="M405.50 119.90L409.60 124.00L405.50 128.10L401.40 124.00Z" fill="none" stroke="#9c1438" stroke-width="1.35"/>
<path d="M413.00 120.40L417.10 124.50L413.00 128.60L408.90 124.50Z" fill="none" stroke="#9c1438" stroke-width="1.35"/>
<path d="M399.50 123.40L403.60 127.50L399.50 131.60L395.40 127.50Z" fill="none" stroke="#9c1438" stroke-width="1.35"/>
<path d="M418.50 123.40L422.60 127.50L418.50 131.60L414.40 127.50Z" fill="none" stroke="#9c1438" stroke-width="1.35"/>
<path d="M409.00 124.90L413.10 129.00L409.00 133.10L404.90 129.00Z" fill="none" stroke="#9c1438" stroke-width="1.35"/>
<path d="M403.00 126.90L407.10 131.00L403.00 135.10L398.90 131.00Z" fill="none" stroke="#9c1438" stroke-width="1.35"/>
<path d="M415.00 126.90L419.10 131.00L415.00 135.10L410.90 131.00Z" fill="none" stroke="#9c1438" stroke-width="1.35"/>
<path d="M400.50 130.90L404.60 135.00L400.50 139.10L396.40 135.00Z" fill="none" stroke="#9c1438" stroke-width="1.35"/>
<path d="M409.50 130.90L413.60 135.00L409.50 139.10L405.40 135.00Z" fill="none" stroke="#9c1438" stroke-width="1.35"/>
<path d="M417.50 130.40L421.60 134.50L417.50 138.60L413.40 134.50Z" fill="none" stroke="#9c1438" stroke-width="1.35"/>
<path d="M404.50 135.40L408.60 139.50L404.50 143.60L400.40 139.50Z" fill="none" stroke="#9c1438" stroke-width="1.35"/>
<path d="M413.50 135.40L417.60 139.50L413.50 143.60L409.40 139.50Z" fill="none" stroke="#9c1438" stroke-width="1.35"/>
<path d="M409.00 140.40L413.10 144.50L409.00 148.60L404.90 144.50Z" fill="none" stroke="#9c1438" stroke-width="1.35"/>
<path d="M404.30 157.70L408.40 161.80L404.30 165.90L400.20 161.80Z" fill="none" stroke="#9c1438" stroke-width="1.35"/>
<path d="M414.90 154.20L419.00 158.30L414.90 162.40L410.80 158.30Z" fill="none" stroke="#9c1438" stroke-width="1.35"/>
<path d="M406.00 160.10L410.10 164.20L406.00 168.30L401.90 164.20Z" fill="none" stroke="#9c1438" stroke-width="1.35"/>
<line x1="396.00" y1="135.60" x2="422.00" y2="135.60" stroke="#111" stroke-width="1.2"/>
<line x1="409.00" y1="123.60" x2="409.00" y2="144.70" stroke="#111" stroke-width="1.2"/>
<line x1="403.50" y1="123.60" x2="414.50" y2="123.60" stroke="#111" stroke-width="1.2"/>
<line x1="403.50" y1="144.70" x2="414.50" y2="144.70" stroke="#111" stroke-width="1.2"/>
<rect x="443.50" y="49.60" width="7.80" height="7.80" fill="none" stroke="#2b3e65" stroke-width="1.15"/>
<rect x="431.80" y="91.20" width="7.80" height="7.80" fill="none" stroke="#2b3e65" stroke-width="1.15"/>
<rect x="456.60" y="92.10" width="7.80" height="7.80" fill="none" stroke="#2b3e65" stroke-width="1.15"/>
<rect x="437.80" y="98.10" width="7.80" height="7.80" fill="none" stroke="#2b3e65" stroke-width="1.15"/>
<rect x="449.70" y="97.20" width="7.80" height="7.80" fill="none" stroke="#2b3e65" stroke-width="1.15"/>
<rect x="449.70" y="101.50" width="7.80" height="7.80" fill="none" stroke="#2b3e65" stroke-width="1.15"/>
<rect x="439.10" y="105.70" width="7.80" height="7.80" fill="none" stroke="#2b3e65" stroke-width="1.15"/>
<rect x="446.10" y="105.90" width="7.80" height="7.80" fill="none" stroke="#2b3e65" stroke-width="1.15"/>
<rect x="436.60" y="113.10" width="7.80" height="7.80" fill="none" stroke="#2d4778" stroke-width="1.15"/>
<rect x="439.10" y="113.10" width="7.80" height="7.80" fill="none" stroke="#2d4778" stroke-width="1.15"/>
<rect x="441.60" y="113.10" width="7.80" height="7.80" fill="none" stroke="#2d4778" stroke-width="1.15"/>
<rect x="444.10" y="113.10" width="7.80" height="7.80" fill="none" stroke="#2d4778" stroke-width="1.15"/>
<rect x="446.60" y="113.10" width="7.80" height="7.80" fill="none" stroke="#2d4778" stroke-width="1.15"/>
<rect x="449.10" y="113.10" width="7.80" height="7.80" fill="none" stroke="#2d4778" stroke-width="1.15"/>
<rect x="451.60" y="113.10" width="7.80" height="7.80" fill="none" stroke="#2d4778" stroke-width="1.15"/>
<rect x="437.85" y="115.60" width="7.80" height="7.80" fill="none" stroke="#2d4778" stroke-width="1.15"/>
<rect x="440.35" y="115.60" width="7.80" height="7.80" fill="none" stroke="#2d4778" stroke-width="1.15"/>
<rect x="442.85" y="115.60" width="7.80" height="7.80" fill="none" stroke="#2d4778" stroke-width="1.15"/>
<rect x="445.35" y="115.60" width="7.80" height="7.80" fill="none" stroke="#2d4778" stroke-width="1.15"/>
<rect x="447.85" y="115.60" width="7.80" height="7.80" fill="none" stroke="#2d4778" stroke-width="1.15"/>
<rect x="450.35" y="115.60" width="7.80" height="7.80" fill="none" stroke="#2d4778" stroke-width="1.15"/>
<rect x="441.60" y="118.10" width="7.80" height="7.80" fill="none" stroke="#2d4778" stroke-width="1.15"/>
<rect x="444.10" y="118.10" width="7.80" height="7.80" fill="none" stroke="#2d4778" stroke-width="1.15"/>
<rect x="446.60" y="118.10" width="7.80" height="7.80" fill="none" stroke="#2d4778" stroke-width="1.15"/>
<rect x="436.60" y="113.10" width="7.80" height="7.80" fill="none" stroke="#2d4778" stroke-width="1.15"/>
<rect x="439.14" y="113.10" width="7.80" height="7.80" fill="none" stroke="#2d4778" stroke-width="1.15"/>
<rect x="441.67" y="113.10" width="7.80" height="7.80" fill="none" stroke="#2d4778" stroke-width="1.15"/>
<rect x="444.21" y="113.10" width="7.80" height="7.80" fill="none" stroke="#2d4778" stroke-width="1.15"/>
<rect x="446.75" y="113.10" width="7.80" height="7.80" fill="none" stroke="#2d4778" stroke-width="1.15"/>
<rect x="449.28" y="113.10" width="7.80" height="7.80" fill="none" stroke="#2d4778" stroke-width="1.15"/>
<rect x="451.82" y="113.10" width="7.80" height="7.80" fill="none" stroke="#2d4778" stroke-width="1.15"/>
<rect x="452.28" y="114.99" width="7.80" height="7.80" fill="none" stroke="#2d4778" stroke-width="1.15"/>
<rect x="450.24" y="116.51" width="7.80" height="7.80" fill="none" stroke="#2d4778" stroke-width="1.15"/>
<rect x="448.21" y="118.02" width="7.80" height="7.80" fill="none" stroke="#2d4778" stroke-width="1.15"/>
<rect x="445.85" y="118.94" width="7.80" height="7.80" fill="none" stroke="#2d4778" stroke-width="1.15"/>
<rect x="443.47" y="119.37" width="7.80" height="7.80" fill="none" stroke="#2d4778" stroke-width="1.15"/>
<rect x="441.10" y="118.47" width="7.80" height="7.80" fill="none" stroke="#2d4778" stroke-width="1.15"/>
<rect x="439.02" y="117.11" width="7.80" height="7.80" fill="none" stroke="#2d4778" stroke-width="1.15"/>
<rect x="437.14" y="115.40" width="7.80" height="7.80" fill="none" stroke="#2d4778" stroke-width="1.15"/>
<rect x="435.10" y="126.10" width="7.80" height="7.80" fill="none" stroke="#2b3e65" stroke-width="1.15"/>
<rect x="440.10" y="126.10" width="7.80" height="7.80" fill="none" stroke="#2b3e65" stroke-width="1.15"/>
<rect x="445.10" y="126.10" width="7.80" height="7.80" fill="none" stroke="#2b3e65" stroke-width="1.15"/>
<rect x="450.10" y="126.10" width="7.80" height="7.80" fill="none" stroke="#2b3e65" stroke-width="1.15"/>
<rect x="454.40" y="126.10" width="7.80" height="7.80" fill="none" stroke="#2b3e65" stroke-width="1.15"/>
<rect x="437.60" y="131.10" width="7.80" height="7.80" fill="none" stroke="#2b3e65" stroke-width="1.15"/>
<rect x="442.60" y="131.10" width="7.80" height="7.80" fill="none" stroke="#2b3e65" stroke-width="1.15"/>
<rect x="447.60" y="131.10" width="7.80" height="7.80" fill="none" stroke="#2b3e65" stroke-width="1.15"/>
<rect x="452.10" y="131.10" width="7.80" height="7.80" fill="none" stroke="#2b3e65" stroke-width="1.15"/>
<rect x="439.60" y="136.10" width="7.80" height="7.80" fill="none" stroke="#2b3e65" stroke-width="1.15"/>
<rect x="444.60" y="136.10" width="7.80" height="7.80" fill="none" stroke="#2b3e65" stroke-width="1.15"/>
<rect x="449.60" y="136.10" width="7.80" height="7.80" fill="none" stroke="#2b3e65" stroke-width="1.15"/>
<line x1="435.00" y1="119.00" x2="461.00" y2="119.00" stroke="#111" stroke-width="1.3"/>
<line x1="448.00" y1="113.50" x2="448.00" y2="126.00" stroke="#111" stroke-width="1.3"/>
<line x1="444.50" y1="113.50" x2="451.50" y2="113.50" stroke="#111" stroke-width="1.3"/>
<line x1="444.50" y1="126.00" x2="451.50" y2="126.00" stroke="#111" stroke-width="1.3"/>
<path d="M486.20 77.20L490.30 81.30L486.20 85.40L482.10 81.30Z" fill="none" stroke="#9c1438" stroke-width="1.35"/>
<path d="M486.20 100.30L490.30 104.40L486.20 108.50L482.10 104.40Z" fill="none" stroke="#9c1438" stroke-width="1.35"/>
<path d="M480.70 113.00L484.80 117.10L480.70 121.20L476.60 117.10Z" fill="none" stroke="#9c1438" stroke-width="1.35"/>
<path d="M492.50 112.10L496.60 116.20L492.50 120.30L488.40 116.20Z" fill="none" stroke="#9c1438" stroke-width="1.35"/>
<path d="M477.80 117.90L481.90 122.00L477.80 126.10L473.70 122.00Z" fill="none" stroke="#9c1438" stroke-width="1.35"/>
<path d="M494.50 115.90L498.60 120.00L494.50 124.10L490.40 120.00Z" fill="none" stroke="#9c1438" stroke-width="1.35"/>
<path d="M480.70 122.90L484.80 127.00L480.70 131.10L476.60 127.00Z" fill="none" stroke="#9c1438" stroke-width="1.35"/>
<path d="M490.50 121.90L494.60 126.00L490.50 130.10L486.40 126.00Z" fill="none" stroke="#9c1438" stroke-width="1.35"/>
<path d="M482.70 128.70L486.80 132.80L482.70 136.90L478.60 132.80Z" fill="none" stroke="#9c1438" stroke-width="1.35"/>
<path d="M489.60 129.70L493.70 133.80L489.60 137.90L485.50 133.80Z" fill="none" stroke="#9c1438" stroke-width="1.35"/>
<path d="M486.60 135.60L490.70 139.70L486.60 143.80L482.50 139.70Z" fill="none" stroke="#9c1438" stroke-width="1.35"/>
<path d="M484.70 140.50L488.80 144.60L484.70 148.70L480.60 144.60Z" fill="none" stroke="#9c1438" stroke-width="1.35"/>
<line x1="473.30" y1="128.90" x2="499.30" y2="128.90" stroke="#111" stroke-width="1.2"/>
<line x1="486.30" y1="118.70" x2="486.30" y2="137.00" stroke="#111" stroke-width="1.2"/>
<line x1="480.80" y1="118.70" x2="491.80" y2="118.70" stroke="#111" stroke-width="1.2"/>
<line x1="480.80" y1="137.00" x2="491.80" y2="137.00" stroke="#111" stroke-width="1.2"/>
<line x1="44.50" y1="217.70" x2="44.50" y2="359.25" stroke="#111" stroke-width="1.6"/>
<line x1="41.20" y1="358.50" x2="249.00" y2="358.50" stroke="#111" stroke-width="1.6"/>
<line x1="168.70" y1="221.10" x2="168.70" y2="358.50" stroke="#1c1c1c" stroke-width="1.4"/>
<line x1="41.20" y1="221.10" x2="44.50" y2="221.10" stroke="#111" stroke-width="1.3"/>
<text x="38.20" y="224.10" font-size="8.6" text-anchor="end" fill="#2e2e2e" font-weight="normal" >150</text>
<line x1="41.20" y1="267.00" x2="44.50" y2="267.00" stroke="#111" stroke-width="1.3"/>
<text x="38.20" y="270.00" font-size="8.6" text-anchor="end" fill="#2e2e2e" font-weight="normal" >100</text>
<line x1="41.20" y1="312.70" x2="44.50" y2="312.70" stroke="#111" stroke-width="1.3"/>
<text x="38.20" y="315.70" font-size="8.6" text-anchor="end" fill="#2e2e2e" font-weight="normal" >50</text>
<line x1="41.20" y1="358.50" x2="44.50" y2="358.50" stroke="#111" stroke-width="1.3"/>
<text x="38.20" y="361.50" font-size="8.6" text-anchor="end" fill="#2e2e2e" font-weight="normal" >0</text>
<line x1="70.00" y1="358.50" x2="70.00" y2="361.50" stroke="#111" stroke-width="1.2"/>
<text x="70.00" y="372.50" font-size="8.4" text-anchor="middle" fill="#161616" font-weight="normal" stroke="#161616" stroke-width="0.2">C</text>
<line x1="108.50" y1="358.50" x2="108.50" y2="361.50" stroke="#111" stroke-width="1.2"/>
<text x="108.50" y="372.50" font-size="8.4" text-anchor="middle" fill="#161616" font-weight="normal" stroke="#161616" stroke-width="0.2">NB</text>
<line x1="147.10" y1="358.50" x2="147.10" y2="361.50" stroke="#111" stroke-width="1.2"/>
<text x="147.10" y="372.50" font-size="8.4" text-anchor="middle" fill="#161616" font-weight="normal" stroke="#161616" stroke-width="0.2">B</text>
<line x1="185.80" y1="358.50" x2="185.80" y2="361.50" stroke="#111" stroke-width="1.2"/>
<text x="185.80" y="372.50" font-size="8.4" text-anchor="middle" fill="#161616" font-weight="normal" stroke="#161616" stroke-width="0.2">NB</text>
<line x1="224.40" y1="358.50" x2="224.40" y2="361.50" stroke="#111" stroke-width="1.2"/>
<text x="224.40" y="372.50" font-size="8.4" text-anchor="middle" fill="#161616" font-weight="normal" stroke="#161616" stroke-width="0.2">B</text>
<line x1="61.40" y1="377.90" x2="151.20" y2="377.90" stroke="#111" stroke-width="1.45"/>
<line x1="175.20" y1="377.90" x2="231.30" y2="377.90" stroke="#111" stroke-width="1.45"/>
<text x="106.30" y="389.20" font-size="8.2" text-anchor="middle" fill="#161616" font-weight="normal" stroke="#161616" stroke-width="0.2">All Samples</text>
<text x="203.25" y="389.20" font-size="8.2" text-anchor="middle" fill="#161616" font-weight="normal" stroke="#161616" stroke-width="0.2">Partial Deficiency</text>
<text transform="translate(16.70,288.30) rotate(-90)" x="0" y="0" font-size="8.8" text-anchor="middle" fill="#161616" stroke="#161616" stroke-width="0.25" textLength="69" lengthAdjust="spacingAndGlyphs">Time to plateau (min)</text>
<text x="12.00" y="210.20" font-size="12.2" text-anchor="middle" fill="#000" font-weight="bold" stroke="#000" stroke-width="0.55">C</text>
<line x1="55.30" y1="227.80" x2="156.60" y2="227.80" stroke="#111" stroke-width="1.35"/>
<rect x="97.70" y="223.00" width="2.0" height="1.6" fill="#333"/>
<rect x="100.90" y="223.00" width="2.0" height="1.6" fill="#333"/>
<line x1="55.30" y1="238.40" x2="100.00" y2="238.40" stroke="#111" stroke-width="1.35"/>
<rect x="74.90" y="233.70" width="2.0" height="1.6" fill="#333"/>
<rect x="78.10" y="233.70" width="2.0" height="1.6" fill="#333"/>
<line x1="111.70" y1="238.40" x2="156.60" y2="238.40" stroke="#111" stroke-width="1.35"/>
<rect x="132.80" y="233.70" width="2.0" height="1.6" fill="#333"/>
<circle cx="63.60" cy="325.20" r="3.6" fill="#8cc868" fill-opacity="0.16" stroke="#5f9c38" stroke-width="1.1"/>
<circle cx="76.50" cy="319.50" r="3.6" fill="#8cc868" fill-opacity="0.16" stroke="#5f9c38" stroke-width="1.1"/>
<circle cx="62.20" cy="336.30" r="3.6" fill="#8cc868" fill-opacity="0.16" stroke="#6aae42" stroke-width="1.05"/>
<circle cx="63.40" cy="338.70" r="3.6" fill="#8cc868" fill-opacity="0.16" stroke="#6aae42" stroke-width="1.05"/>
<circle cx="65.80" cy="338.70" r="3.6" fill="#8cc868" fill-opacity="0.16" stroke="#6aae42" stroke-width="1.05"/>
<circle cx="68.20" cy="338.70" r="3.6" fill="#8cc868" fill-opacity="0.16" stroke="#6aae42" stroke-width="1.05"/>
<circle cx="70.60" cy="338.70" r="3.6" fill="#8cc868" fill-opacity="0.16" stroke="#6aae42" stroke-width="1.05"/>
<circle cx="73.00" cy="338.70" r="3.6" fill="#8cc868" fill-opacity="0.16" stroke="#6aae42" stroke-width="1.05"/>
<circle cx="75.40" cy="338.70" r="3.6" fill="#8cc868" fill-opacity="0.16" stroke="#6aae42" stroke-width="1.05"/>
<circle cx="77.80" cy="338.70" r="3.6" fill="#8cc868" fill-opacity="0.16" stroke="#6aae42" stroke-width="1.05"/>
<circle cx="62.20" cy="341.10" r="3.6" fill="#8cc868" fill-opacity="0.16" stroke="#6aae42" stroke-width="1.05"/>
<circle cx="64.60" cy="341.10" r="3.6" fill="#8cc868" fill-opacity="0.16" stroke="#6aae42" stroke-width="1.05"/>
<circle cx="67.00" cy="341.10" r="3.6" fill="#8cc868" fill-opacity="0.16" stroke="#6aae42" stroke-width="1.05"/>
<circle cx="69.40" cy="341.10" r="3.6" fill="#8cc868" fill-opacity="0.16" stroke="#6aae42" stroke-width="1.05"/>
<circle cx="71.80" cy="341.10" r="3.6" fill="#8cc868" fill-opacity="0.16" stroke="#6aae42" stroke-width="1.05"/>
<circle cx="74.20" cy="341.10" r="3.6" fill="#8cc868" fill-opacity="0.16" stroke="#6aae42" stroke-width="1.05"/>
<circle cx="76.60" cy="341.10" r="3.6" fill="#8cc868" fill-opacity="0.16" stroke="#6aae42" stroke-width="1.05"/>
<circle cx="63.40" cy="343.50" r="3.6" fill="#8cc868" fill-opacity="0.16" stroke="#6aae42" stroke-width="1.05"/>
<circle cx="65.80" cy="343.50" r="3.6" fill="#8cc868" fill-opacity="0.16" stroke="#6aae42" stroke-width="1.05"/>
<circle cx="68.20" cy="343.50" r="3.6" fill="#8cc868" fill-opacity="0.16" stroke="#6aae42" stroke-width="1.05"/>
<circle cx="70.60" cy="343.50" r="3.6" fill="#8cc868" fill-opacity="0.16" stroke="#6aae42" stroke-width="1.05"/>
<circle cx="73.00" cy="343.50" r="3.6" fill="#8cc868" fill-opacity="0.16" stroke="#6aae42" stroke-width="1.05"/>
<circle cx="75.40" cy="343.50" r="3.6" fill="#8cc868" fill-opacity="0.16" stroke="#6aae42" stroke-width="1.05"/>
<circle cx="77.80" cy="343.50" r="3.6" fill="#8cc868" fill-opacity="0.16" stroke="#6aae42" stroke-width="1.05"/>
<circle cx="64.60" cy="345.90" r="3.6" fill="#8cc868" fill-opacity="0.16" stroke="#6aae42" stroke-width="1.05"/>
<circle cx="67.00" cy="345.90" r="3.6" fill="#8cc868" fill-opacity="0.16" stroke="#6aae42" stroke-width="1.05"/>
<circle cx="69.40" cy="345.90" r="3.6" fill="#8cc868" fill-opacity="0.16" stroke="#6aae42" stroke-width="1.05"/>
<circle cx="71.80" cy="345.90" r="3.6" fill="#8cc868" fill-opacity="0.16" stroke="#6aae42" stroke-width="1.05"/>
<circle cx="74.20" cy="345.90" r="3.6" fill="#8cc868" fill-opacity="0.16" stroke="#6aae42" stroke-width="1.05"/>
<circle cx="76.60" cy="345.90" r="3.6" fill="#8cc868" fill-opacity="0.16" stroke="#6aae42" stroke-width="1.05"/>
<circle cx="65.80" cy="348.30" r="3.6" fill="#8cc868" fill-opacity="0.16" stroke="#6aae42" stroke-width="1.05"/>
<circle cx="68.20" cy="348.30" r="3.6" fill="#8cc868" fill-opacity="0.16" stroke="#6aae42" stroke-width="1.05"/>
<circle cx="70.60" cy="348.30" r="3.6" fill="#8cc868" fill-opacity="0.16" stroke="#6aae42" stroke-width="1.05"/>
<circle cx="73.00" cy="348.30" r="3.6" fill="#8cc868" fill-opacity="0.16" stroke="#6aae42" stroke-width="1.05"/>
<circle cx="62.30" cy="336.30" r="3.6" fill="#8cc868" fill-opacity="0.16" stroke="#6aae42" stroke-width="1.05"/>
<circle cx="64.72" cy="336.95" r="3.6" fill="#8cc868" fill-opacity="0.16" stroke="#6aae42" stroke-width="1.05"/>
<circle cx="67.14" cy="337.58" r="3.6" fill="#8cc868" fill-opacity="0.16" stroke="#6aae42" stroke-width="1.05"/>
<circle cx="69.57" cy="338.19" r="3.6" fill="#8cc868" fill-opacity="0.16" stroke="#6aae42" stroke-width="1.05"/>
<circle cx="71.99" cy="337.80" r="3.6" fill="#8cc868" fill-opacity="0.16" stroke="#6aae42" stroke-width="1.05"/>
<circle cx="74.42" cy="337.19" r="3.6" fill="#8cc868" fill-opacity="0.16" stroke="#6aae42" stroke-width="1.05"/>
<circle cx="76.84" cy="336.53" r="3.6" fill="#8cc868" fill-opacity="0.16" stroke="#6aae42" stroke-width="1.05"/>
<circle cx="77.72" cy="337.91" r="3.6" fill="#8cc868" fill-opacity="0.16" stroke="#6aae42" stroke-width="1.05"/>
<circle cx="77.75" cy="340.41" r="3.6" fill="#8cc868" fill-opacity="0.16" stroke="#6aae42" stroke-width="1.05"/>
<circle cx="77.79" cy="342.91" r="3.6" fill="#8cc868" fill-opacity="0.16" stroke="#6aae42" stroke-width="1.05"/>
<circle cx="77.14" cy="345.25" r="3.6" fill="#8cc868" fill-opacity="0.16" stroke="#6aae42" stroke-width="1.05"/>
<circle cx="75.97" cy="347.47" r="3.6" fill="#8cc868" fill-opacity="0.16" stroke="#6aae42" stroke-width="1.05"/>
<circle cx="73.95" cy="348.86" r="3.6" fill="#8cc868" fill-opacity="0.16" stroke="#6aae42" stroke-width="1.05"/>
<circle cx="71.70" cy="349.80" r="3.6" fill="#8cc868" fill-opacity="0.16" stroke="#6aae42" stroke-width="1.05"/>
<circle cx="69.20" cy="349.80" r="3.6" fill="#8cc868" fill-opacity="0.16" stroke="#6aae42" stroke-width="1.05"/>
<circle cx="66.83" cy="349.30" r="3.6" fill="#8cc868" fill-opacity="0.16" stroke="#6aae42" stroke-width="1.05"/>
<circle cx="64.65" cy="348.06" r="3.6" fill="#8cc868" fill-opacity="0.16" stroke="#6aae42" stroke-width="1.05"/>
<circle cx="63.28" cy="346.05" r="3.6" fill="#8cc868" fill-opacity="0.16" stroke="#6aae42" stroke-width="1.05"/>
<circle cx="62.20" cy="343.81" r="3.6" fill="#8cc868" fill-opacity="0.16" stroke="#6aae42" stroke-width="1.05"/>
<circle cx="62.23" cy="341.31" r="3.6" fill="#8cc868" fill-opacity="0.16" stroke="#6aae42" stroke-width="1.05"/>
<circle cx="62.27" cy="338.80" r="3.6" fill="#8cc868" fill-opacity="0.16" stroke="#6aae42" stroke-width="1.05"/>
<circle cx="62.40" cy="336.00" r="3.6" fill="#8cc868" fill-opacity="0.16" stroke="#5f9c38" stroke-width="1.05"/>
<circle cx="77.60" cy="336.00" r="3.6" fill="#8cc868" fill-opacity="0.16" stroke="#5f9c38" stroke-width="1.05"/>
<circle cx="70.00" cy="353.30" r="3.6" fill="#8cc868" fill-opacity="0.16" stroke="#5f9c38" stroke-width="1.05"/>
<line x1="57.50" y1="344.10" x2="82.50" y2="344.10" stroke="#111" stroke-width="1.3"/>
<line x1="70.00" y1="341.00" x2="70.00" y2="346.60" stroke="#111" stroke-width="1.3"/>
<line x1="64.20" y1="341.00" x2="75.80" y2="341.00" stroke="#111" stroke-width="1.3"/>
<line x1="64.20" y1="346.60" x2="75.80" y2="346.60" stroke="#111" stroke-width="1.3"/>
<rect x="98.60" y="244.70" width="7.80" height="7.80" fill="none" stroke="#2b3e65" stroke-width="1.15"/>
<rect x="111.00" y="244.70" width="7.80" height="7.80" fill="none" stroke="#2b3e65" stroke-width="1.15"/>
<rect x="98.60" y="295.10" width="7.80" height="7.80" fill="none" stroke="#2b3e65" stroke-width="1.15"/>
<rect x="111.20" y="307.20" width="7.80" height="7.80" fill="none" stroke="#2b3e65" stroke-width="1.15"/>
<rect x="116.90" y="303.40" width="7.80" height="7.80" fill="none" stroke="#2b3e65" stroke-width="1.15"/>
<rect x="98.60" y="317.10" width="7.80" height="7.80" fill="none" stroke="#2b3e65" stroke-width="1.15"/>
<rect x="111.50" y="323.10" width="7.80" height="7.80" fill="none" stroke="#2b3e65" stroke-width="1.15"/>
<rect x="98.40" y="325.90" width="7.80" height="7.80" fill="none" stroke="#2d4778" stroke-width="1.15"/>
<rect x="100.90" y="325.90" width="7.80" height="7.80" fill="none" stroke="#2d4778" stroke-width="1.15"/>
<rect x="97.15" y="328.40" width="7.80" height="7.80" fill="none" stroke="#2d4778" stroke-width="1.15"/>
<rect x="99.65" y="328.40" width="7.80" height="7.80" fill="none" stroke="#2d4778" stroke-width="1.15"/>
<rect x="102.15" y="328.40" width="7.80" height="7.80" fill="none" stroke="#2d4778" stroke-width="1.15"/>
<rect x="104.65" y="328.40" width="7.80" height="7.80" fill="none" stroke="#2d4778" stroke-width="1.15"/>
<rect x="107.15" y="328.40" width="7.80" height="7.80" fill="none" stroke="#2d4778" stroke-width="1.15"/>
<rect x="109.65" y="328.40" width="7.80" height="7.80" fill="none" stroke="#2d4778" stroke-width="1.15"/>
<rect x="112.15" y="328.40" width="7.80" height="7.80" fill="none" stroke="#2d4778" stroke-width="1.15"/>
<rect x="95.90" y="330.90" width="7.80" height="7.80" fill="none" stroke="#2d4778" stroke-width="1.15"/>
<rect x="98.40" y="330.90" width="7.80" height="7.80" fill="none" stroke="#2d4778" stroke-width="1.15"/>
<rect x="100.90" y="330.90" width="7.80" height="7.80" fill="none" stroke="#2d4778" stroke-width="1.15"/>
<rect x="103.40" y="330.90" width="7.80" height="7.80" fill="none" stroke="#2d4778" stroke-width="1.15"/>
<rect x="105.90" y="330.90" width="7.80" height="7.80" fill="none" stroke="#2d4778" stroke-width="1.15"/>
<rect x="108.40" y="330.90" width="7.80" height="7.80" fill="none" stroke="#2d4778" stroke-width="1.15"/>
<rect x="110.90" y="330.90" width="7.80" height="7.80" fill="none" stroke="#2d4778" stroke-width="1.15"/>
<rect x="113.40" y="330.90" width="7.80" height="7.80" fill="none" stroke="#2d4778" stroke-width="1.15"/>
<rect x="97.15" y="333.40" width="7.80" height="7.80" fill="none" stroke="#2d4778" stroke-width="1.15"/>
<rect x="99.65" y="333.40" width="7.80" height="7.80" fill="none" stroke="#2d4778" stroke-width="1.15"/>
<rect x="102.15" y="333.40" width="7.80" height="7.80" fill="none" stroke="#2d4778" stroke-width="1.15"/>
<rect x="104.65" y="333.40" width="7.80" height="7.80" fill="none" stroke="#2d4778" stroke-width="1.15"/>
<rect x="107.15" y="333.40" width="7.80" height="7.80" fill="none" stroke="#2d4778" stroke-width="1.15"/>
<rect x="109.65" y="333.40" width="7.80" height="7.80" fill="none" stroke="#2d4778" stroke-width="1.15"/>
<rect x="112.15" y="333.40" width="7.80" height="7.80" fill="none" stroke="#2d4778" stroke-width="1.15"/>
<rect x="98.40" y="335.90" width="7.80" height="7.80" fill="none" stroke="#2d4778" stroke-width="1.15"/>
<rect x="100.90" y="335.90" width="7.80" height="7.80" fill="none" stroke="#2d4778" stroke-width="1.15"/>
<rect x="103.40" y="335.90" width="7.80" height="7.80" fill="none" stroke="#2d4778" stroke-width="1.15"/>
<rect x="105.90" y="335.90" width="7.80" height="7.80" fill="none" stroke="#2d4778" stroke-width="1.15"/>
<rect x="108.40" y="335.90" width="7.80" height="7.80" fill="none" stroke="#2d4778" stroke-width="1.15"/>
<rect x="110.90" y="335.90" width="7.80" height="7.80" fill="none" stroke="#2d4778" stroke-width="1.15"/>
<rect x="99.65" y="338.40" width="7.80" height="7.80" fill="none" stroke="#2d4778" stroke-width="1.15"/>
<rect x="102.15" y="338.40" width="7.80" height="7.80" fill="none" stroke="#2d4778" stroke-width="1.15"/>
<rect x="104.65" y="338.40" width="7.80" height="7.80" fill="none" stroke="#2d4778" stroke-width="1.15"/>
<rect x="107.15" y="338.40" width="7.80" height="7.80" fill="none" stroke="#2d4778" stroke-width="1.15"/>
<rect x="103.40" y="340.90" width="7.80" height="7.80" fill="none" stroke="#2d4778" stroke-width="1.15"/>
<rect x="105.90" y="340.90" width="7.80" height="7.80" fill="none" stroke="#2d4778" stroke-width="1.15"/>
<rect x="98.10" y="325.90" width="7.80" height="7.80" fill="none" stroke="#2d4778" stroke-width="1.15"/>
<rect x="100.69" y="325.90" width="7.80" height="7.80" fill="none" stroke="#2d4778" stroke-width="1.15"/>
<rect x="103.18" y="326.36" width="7.80" height="7.80" fill="none" stroke="#2d4778" stroke-width="1.15"/>
<rect x="105.56" y="327.37" width="7.80" height="7.80" fill="none" stroke="#2d4778" stroke-width="1.15"/>
<rect x="108.10" y="327.71" width="7.80" height="7.80" fill="none" stroke="#2d4778" stroke-width="1.15"/>
<rect x="110.69" y="327.85" width="7.80" height="7.80" fill="none" stroke="#2d4778" stroke-width="1.15"/>
<rect x="112.75" y="329.11" width="7.80" height="7.80" fill="none" stroke="#2d4778" stroke-width="1.15"/>
<rect x="113.70" y="331.32" width="7.80" height="7.80" fill="none" stroke="#2d4778" stroke-width="1.15"/>
<rect x="113.70" y="333.91" width="7.80" height="7.80" fill="none" stroke="#2d4778" stroke-width="1.15"/>
<rect x="112.77" y="335.97" width="7.80" height="7.80" fill="none" stroke="#2d4778" stroke-width="1.15"/>
<rect x="110.56" y="337.32" width="7.80" height="7.80" fill="none" stroke="#2d4778" stroke-width="1.15"/>
<rect x="108.61" y="339.01" width="7.80" height="7.80" fill="none" stroke="#2d4778" stroke-width="1.15"/>
<rect x="106.73" y="340.79" width="7.80" height="7.80" fill="none" stroke="#2d4778" stroke-width="1.15"/>
<rect x="104.27" y="341.10" width="7.80" height="7.80" fill="none" stroke="#2d4778" stroke-width="1.15"/>
<rect x="101.83" y="340.78" width="7.80" height="7.80" fill="none" stroke="#2d4778" stroke-width="1.15"/>
<rect x="100.14" y="338.82" width="7.80" height="7.80" fill="none" stroke="#2d4778" stroke-width="1.15"/>
<rect x="98.29" y="337.04" width="7.80" height="7.80" fill="none" stroke="#2d4778" stroke-width="1.15"/>
<rect x="96.16" y="335.58" width="7.80" height="7.80" fill="none" stroke="#2d4778" stroke-width="1.15"/>
<rect x="95.90" y="333.12" width="7.80" height="7.80" fill="none" stroke="#2d4778" stroke-width="1.15"/>
<rect x="95.90" y="330.53" width="7.80" height="7.80" fill="none" stroke="#2d4778" stroke-width="1.15"/>
<rect x="96.90" y="328.19" width="7.80" height="7.80" fill="none" stroke="#2d4778" stroke-width="1.15"/>
<rect x="104.20" y="345.30" width="7.80" height="7.80" fill="none" stroke="#2b3e65" stroke-width="1.15"/>
<line x1="95.50" y1="338.60" x2="121.50" y2="338.60" stroke="#111" stroke-width="1.3"/>
<line x1="108.50" y1="333.00" x2="108.50" y2="340.80" stroke="#111" stroke-width="1.3"/>
<line x1="102.20" y1="333.00" x2="114.80" y2="333.00" stroke="#111" stroke-width="1.3"/>
<line x1="102.20" y1="340.80" x2="114.80" y2="340.80" stroke="#111" stroke-width="1.3"/>
<path d="M140.20 244.70L144.30 248.80L140.20 252.90L136.10 248.80Z" fill="none" stroke="#9c1438" stroke-width="1.35"/>
<path d="M146.80 244.70L150.90 248.80L146.80 252.90L142.70 248.80Z" fill="none" stroke="#9c1438" stroke-width="1.35"/>
<path d="M153.90 244.70L158.00 248.80L153.90 252.90L149.80 248.80Z" fill="none" stroke="#9c1438" stroke-width="1.35"/>
<path d="M140.90 306.60L145.00 310.70L140.90 314.80L136.80 310.70Z" fill="none" stroke="#9c1438" stroke-width="1.35"/>
<path d="M153.20 306.60L157.30 310.70L153.20 314.80L149.10 310.70Z" fill="none" stroke="#9c1438" stroke-width="1.35"/>
<path d="M140.50 317.40L144.60 321.50L140.50 325.60L136.40 321.50Z" fill="none" stroke="#9c1438" stroke-width="1.35"/>
<path d="M153.50 317.40L157.60 321.50L153.50 325.60L149.40 321.50Z" fill="none" stroke="#9c1438" stroke-width="1.35"/>
<path d="M144.20 322.20L148.30 326.30L144.20 330.40L140.10 326.30Z" fill="none" stroke="#a8153b" stroke-width="1.35"/>
<path d="M149.80 322.20L153.90 326.30L149.80 330.40L145.70 326.30Z" fill="none" stroke="#a8153b" stroke-width="1.35"/>
<path d="M141.40 326.00L145.50 330.10L141.40 334.20L137.30 330.10Z" fill="none" stroke="#a8153b" stroke-width="1.35"/>
<path d="M147.00 326.00L151.10 330.10L147.00 334.20L142.90 330.10Z" fill="none" stroke="#a8153b" stroke-width="1.35"/>
<path d="M152.60 326.00L156.70 330.10L152.60 334.20L148.50 330.10Z" fill="none" stroke="#a8153b" stroke-width="1.35"/>
<path d="M144.20 329.80L148.30 333.90L144.20 338.00L140.10 333.90Z" fill="none" stroke="#a8153b" stroke-width="1.35"/>
<path d="M149.80 329.80L153.90 333.90L149.80 338.00L145.70 333.90Z" fill="none" stroke="#a8153b" stroke-width="1.35"/>
<path d="M141.40 333.60L145.50 337.70L141.40 341.80L137.30 337.70Z" fill="none" stroke="#a8153b" stroke-width="1.35"/>
<path d="M147.00 333.60L151.10 337.70L147.00 341.80L142.90 337.70Z" fill="none" stroke="#a8153b" stroke-width="1.35"/>
<path d="M144.20 337.40L148.30 341.50L144.20 345.60L140.10 341.50Z" fill="none" stroke="#a8153b" stroke-width="1.35"/>
<path d="M139.60 323.40L143.70 327.50L139.60 331.60L135.50 327.50Z" fill="none" stroke="#a8153b" stroke-width="1.35"/>
<path d="M146.04 322.69L150.14 326.79L146.04 330.89L141.94 326.79Z" fill="none" stroke="#a8153b" stroke-width="1.35"/>
<path d="M152.55 322.73L156.65 326.83L152.55 330.93L148.45 326.83Z" fill="none" stroke="#a8153b" stroke-width="1.35"/>
<path d="M154.51 327.72L158.61 331.82L154.51 335.92L150.41 331.82Z" fill="none" stroke="#a8153b" stroke-width="1.35"/>
<path d="M150.68 333.15L154.78 337.25L150.68 341.35L146.58 337.25Z" fill="none" stroke="#a8153b" stroke-width="1.35"/>
<path d="M146.80 338.58L150.90 342.68L146.80 346.78L142.70 342.68Z" fill="none" stroke="#a8153b" stroke-width="1.35"/>
<path d="M142.81 335.48L146.91 339.58L142.81 343.68L138.71 339.58Z" fill="none" stroke="#a8153b" stroke-width="1.35"/>
<path d="M139.38 329.77L143.48 333.87L139.38 337.97L135.28 333.87Z" fill="none" stroke="#a8153b" stroke-width="1.35"/>
<line x1="134.10" y1="330.00" x2="160.10" y2="330.00" stroke="#111" stroke-width="1.2"/>
<line x1="147.10" y1="319.20" x2="147.10" y2="337.00" stroke="#111" stroke-width="1.2"/>
<line x1="141.60" y1="319.20" x2="152.60" y2="319.20" stroke="#111" stroke-width="1.2"/>
<line x1="141.60" y1="337.00" x2="152.60" y2="337.00" stroke="#111" stroke-width="1.2"/>
<rect x="187.90" y="307.60" width="7.80" height="7.80" fill="none" stroke="#2b3e65" stroke-width="1.15"/>
<rect x="175.30" y="317.40" width="7.80" height="7.80" fill="none" stroke="#2b3e65" stroke-width="1.15"/>
<rect x="188.50" y="323.10" width="7.80" height="7.80" fill="none" stroke="#2b3e65" stroke-width="1.15"/>
<rect x="174.00" y="326.30" width="7.80" height="7.80" fill="none" stroke="#2d4778" stroke-width="1.15"/>
<rect x="176.50" y="326.30" width="7.80" height="7.80" fill="none" stroke="#2d4778" stroke-width="1.15"/>
<rect x="175.25" y="328.80" width="7.80" height="7.80" fill="none" stroke="#2d4778" stroke-width="1.15"/>
<rect x="177.75" y="328.80" width="7.80" height="7.80" fill="none" stroke="#2d4778" stroke-width="1.15"/>
<rect x="180.25" y="328.80" width="7.80" height="7.80" fill="none" stroke="#2d4778" stroke-width="1.15"/>
<rect x="174.00" y="331.30" width="7.80" height="7.80" fill="none" stroke="#2d4778" stroke-width="1.15"/>
<rect x="176.50" y="331.30" width="7.80" height="7.80" fill="none" stroke="#2d4778" stroke-width="1.15"/>
<rect x="179.00" y="331.30" width="7.80" height="7.80" fill="none" stroke="#2d4778" stroke-width="1.15"/>
<rect x="181.50" y="331.30" width="7.80" height="7.80" fill="none" stroke="#2d4778" stroke-width="1.15"/>
<rect x="184.00" y="331.30" width="7.80" height="7.80" fill="none" stroke="#2d4778" stroke-width="1.15"/>
<rect x="186.50" y="331.30" width="7.80" height="7.80" fill="none" stroke="#2d4778" stroke-width="1.15"/>
<rect x="189.00" y="331.30" width="7.80" height="7.80" fill="none" stroke="#2d4778" stroke-width="1.15"/>
<rect x="175.25" y="333.80" width="7.80" height="7.80" fill="none" stroke="#2d4778" stroke-width="1.15"/>
<rect x="177.75" y="333.80" width="7.80" height="7.80" fill="none" stroke="#2d4778" stroke-width="1.15"/>
<rect x="180.25" y="333.80" width="7.80" height="7.80" fill="none" stroke="#2d4778" stroke-width="1.15"/>
<rect x="182.75" y="333.80" width="7.80" height="7.80" fill="none" stroke="#2d4778" stroke-width="1.15"/>
<rect x="185.25" y="333.80" width="7.80" height="7.80" fill="none" stroke="#2d4778" stroke-width="1.15"/>
<rect x="187.75" y="333.80" width="7.80" height="7.80" fill="none" stroke="#2d4778" stroke-width="1.15"/>
<rect x="179.00" y="336.30" width="7.80" height="7.80" fill="none" stroke="#2d4778" stroke-width="1.15"/>
<rect x="181.50" y="336.30" width="7.80" height="7.80" fill="none" stroke="#2d4778" stroke-width="1.15"/>
<rect x="184.00" y="336.30" width="7.80" height="7.80" fill="none" stroke="#2d4778" stroke-width="1.15"/>
<rect x="174.00" y="326.30" width="7.80" height="7.80" fill="none" stroke="#2d4778" stroke-width="1.15"/>
<rect x="176.50" y="326.30" width="7.80" height="7.80" fill="none" stroke="#2d4778" stroke-width="1.15"/>
<rect x="178.84" y="326.82" width="7.80" height="7.80" fill="none" stroke="#2d4778" stroke-width="1.15"/>
<rect x="180.89" y="328.25" width="7.80" height="7.80" fill="none" stroke="#2d4778" stroke-width="1.15"/>
<rect x="183.03" y="329.52" width="7.80" height="7.80" fill="none" stroke="#2d4778" stroke-width="1.15"/>
<rect x="185.31" y="330.55" width="7.80" height="7.80" fill="none" stroke="#2d4778" stroke-width="1.15"/>
<rect x="187.74" y="330.90" width="7.80" height="7.80" fill="none" stroke="#2d4778" stroke-width="1.15"/>
<rect x="190.20" y="330.94" width="7.80" height="7.80" fill="none" stroke="#2d4778" stroke-width="1.15"/>
<rect x="189.96" y="333.33" width="7.80" height="7.80" fill="none" stroke="#2d4778" stroke-width="1.15"/>
<rect x="188.15" y="335.07" width="7.80" height="7.80" fill="none" stroke="#2d4778" stroke-width="1.15"/>
<rect x="185.92" y="336.02" width="7.80" height="7.80" fill="none" stroke="#2d4778" stroke-width="1.15"/>
<rect x="183.49" y="336.60" width="7.80" height="7.80" fill="none" stroke="#2d4778" stroke-width="1.15"/>
<rect x="180.99" y="336.60" width="7.80" height="7.80" fill="none" stroke="#2d4778" stroke-width="1.15"/>
<rect x="178.54" y="336.15" width="7.80" height="7.80" fill="none" stroke="#2d4778" stroke-width="1.15"/>
<rect x="176.17" y="335.46" width="7.80" height="7.80" fill="none" stroke="#2d4778" stroke-width="1.15"/>
<rect x="174.48" y="333.62" width="7.80" height="7.80" fill="none" stroke="#2d4778" stroke-width="1.15"/>
<rect x="174.00" y="331.30" width="7.80" height="7.80" fill="none" stroke="#2d4778" stroke-width="1.15"/>
<rect x="174.00" y="328.80" width="7.80" height="7.80" fill="none" stroke="#2d4778" stroke-width="1.15"/>
<rect x="182.10" y="344.70" width="7.80" height="7.80" fill="none" stroke="#2b3e65" stroke-width="1.15"/>
<line x1="172.80" y1="339.60" x2="198.80" y2="339.60" stroke="#111" stroke-width="1.3"/>
<line x1="185.80" y1="334.60" x2="185.80" y2="343.00" stroke="#111" stroke-width="1.3"/>
<line x1="179.50" y1="334.60" x2="192.10" y2="334.60" stroke="#111" stroke-width="1.3"/>
<line x1="179.50" y1="343.00" x2="192.10" y2="343.00" stroke="#111" stroke-width="1.3"/>
<path d="M218.70 328.30L222.80 332.40L218.70 336.50L214.60 332.40Z" fill="none" stroke="#a8153b" stroke-width="1.35"/>
<path d="M223.70 328.30L227.80 332.40L223.70 336.50L219.60 332.40Z" fill="none" stroke="#a8153b" stroke-width="1.35"/>
<path d="M228.70 328.30L232.80 332.40L228.70 336.50L224.60 332.40Z" fill="none" stroke="#a8153b" stroke-width="1.35"/>
<path d="M221.20 331.70L225.30 335.80L221.20 339.90L217.10 335.80Z" fill="none" stroke="#a8153b" stroke-width="1.35"/>
<path d="M226.20 331.70L230.30 335.80L226.20 339.90L222.10 335.80Z" fill="none" stroke="#a8153b" stroke-width="1.35"/>
<path d="M231.20 331.70L235.30 335.80L231.20 339.90L227.10 335.80Z" fill="none" stroke="#a8153b" stroke-width="1.35"/>
<path d="M223.70 335.10L227.80 339.20L223.70 343.30L219.60 339.20Z" fill="none" stroke="#a8153b" stroke-width="1.35"/>
<path d="M228.70 335.10L232.80 339.20L228.70 343.30L224.60 339.20Z" fill="none" stroke="#a8153b" stroke-width="1.35"/>
<path d="M226.20 338.50L230.30 342.60L226.20 346.70L222.10 342.60Z" fill="none" stroke="#a8153b" stroke-width="1.35"/>
<path d="M217.30 324.90L221.40 329.00L217.30 333.10L213.20 329.00Z" fill="none" stroke="#a8153b" stroke-width="1.35"/>
<path d="M221.86 327.22L225.96 331.32L221.86 335.42L217.76 331.32Z" fill="none" stroke="#a8153b" stroke-width="1.35"/>
<path d="M227.09 327.25L231.19 331.35L227.09 335.45L222.99 331.35Z" fill="none" stroke="#a8153b" stroke-width="1.35"/>
<path d="M231.61 324.96L235.71 329.06L231.61 333.16L227.51 329.06Z" fill="none" stroke="#a8153b" stroke-width="1.35"/>
<path d="M232.49 330.23L236.59 334.33L232.49 338.43L228.39 334.33Z" fill="none" stroke="#a8153b" stroke-width="1.35"/>
<path d="M229.52 334.40L233.62 338.50L229.52 342.60L225.42 338.50Z" fill="none" stroke="#a8153b" stroke-width="1.35"/>
<path d="M226.08 338.47L230.18 342.57L226.08 346.67L221.98 342.57Z" fill="none" stroke="#a8153b" stroke-width="1.35"/>
<path d="M222.67 338.41L226.77 342.51L222.67 346.61L218.57 342.51Z" fill="none" stroke="#a8153b" stroke-width="1.35"/>
<path d="M219.22 334.34L223.32 338.44L219.22 342.54L215.12 338.44Z" fill="none" stroke="#a8153b" stroke-width="1.35"/>
<path d="M216.34 330.15L220.44 334.25L216.34 338.35L212.24 334.25Z" fill="none" stroke="#a8153b" stroke-width="1.35"/>
<line x1="211.40" y1="335.30" x2="237.40" y2="335.30" stroke="#111" stroke-width="1.15"/>
<line x1="224.40" y1="330.50" x2="224.40" y2="340.00" stroke="#111" stroke-width="1.15"/>
<line x1="219.90" y1="330.50" x2="228.90" y2="330.50" stroke="#111" stroke-width="1.15"/>
<line x1="219.90" y1="340.00" x2="228.90" y2="340.00" stroke="#111" stroke-width="1.15"/>
<line x1="303.05" y1="218.10" x2="303.05" y2="359.30" stroke="#111" stroke-width="1.6"/>
<line x1="299.75" y1="358.55" x2="509.00" y2="358.55" stroke="#111" stroke-width="1.6"/>
<line x1="427.10" y1="221.40" x2="427.10" y2="358.55" stroke="#1c1c1c" stroke-width="1.4"/>
<line x1="299.75" y1="221.20" x2="303.05" y2="221.20" stroke="#111" stroke-width="1.3"/>
<text x="296.75" y="224.20" font-size="8.6" text-anchor="end" fill="#2e2e2e" font-weight="normal" >1.2</text>
<line x1="299.75" y1="244.00" x2="303.05" y2="244.00" stroke="#111" stroke-width="1.3"/>
<text x="296.75" y="247.00" font-size="8.6" text-anchor="end" fill="#2e2e2e" font-weight="normal" >1.0</text>
<line x1="299.75" y1="267.00" x2="303.05" y2="267.00" stroke="#111" stroke-width="1.3"/>
<text x="296.75" y="270.00" font-size="8.6" text-anchor="end" fill="#2e2e2e" font-weight="normal" >0.8</text>
<line x1="299.75" y1="290.00" x2="303.05" y2="290.00" stroke="#111" stroke-width="1.3"/>
<text x="296.75" y="293.00" font-size="8.6" text-anchor="end" fill="#2e2e2e" font-weight="normal" >0.6</text>
<line x1="299.75" y1="312.80" x2="303.05" y2="312.80" stroke="#111" stroke-width="1.3"/>
<text x="296.75" y="315.80" font-size="8.6" text-anchor="end" fill="#2e2e2e" font-weight="normal" >0.4</text>
<line x1="299.75" y1="335.60" x2="303.05" y2="335.60" stroke="#111" stroke-width="1.3"/>
<text x="296.75" y="338.60" font-size="8.6" text-anchor="end" fill="#2e2e2e" font-weight="normal" >0.2</text>
<line x1="299.75" y1="358.40" x2="303.05" y2="358.40" stroke="#111" stroke-width="1.3"/>
<text x="296.75" y="361.40" font-size="8.6" text-anchor="end" fill="#2e2e2e" font-weight="normal" >0.0</text>
<line x1="328.70" y1="358.55" x2="328.70" y2="361.55" stroke="#111" stroke-width="1.2"/>
<text x="328.70" y="372.55" font-size="8.4" text-anchor="middle" fill="#161616" font-weight="normal" stroke="#161616" stroke-width="0.2">C</text>
<line x1="367.20" y1="358.55" x2="367.20" y2="361.55" stroke="#111" stroke-width="1.2"/>
<text x="367.20" y="372.55" font-size="8.4" text-anchor="middle" fill="#161616" font-weight="normal" stroke="#161616" stroke-width="0.2">NB</text>
<line x1="405.80" y1="358.55" x2="405.80" y2="361.55" stroke="#111" stroke-width="1.2"/>
<text x="405.80" y="372.55" font-size="8.4" text-anchor="middle" fill="#161616" font-weight="normal" stroke="#161616" stroke-width="0.2">B</text>
<line x1="444.30" y1="358.55" x2="444.30" y2="361.55" stroke="#111" stroke-width="1.2"/>
<text x="444.30" y="372.55" font-size="8.4" text-anchor="middle" fill="#161616" font-weight="normal" stroke="#161616" stroke-width="0.2">NB</text>
<line x1="482.50" y1="358.55" x2="482.50" y2="361.55" stroke="#111" stroke-width="1.2"/>
<text x="482.50" y="372.55" font-size="8.4" text-anchor="middle" fill="#161616" font-weight="normal" stroke="#161616" stroke-width="0.2">B</text>
<line x1="319.60" y1="377.95" x2="409.50" y2="377.95" stroke="#111" stroke-width="1.45"/>
<line x1="434.30" y1="377.95" x2="489.10" y2="377.95" stroke="#111" stroke-width="1.45"/>
<text x="364.55" y="389.20" font-size="8.2" text-anchor="middle" fill="#161616" font-weight="normal" stroke="#161616" stroke-width="0.2">All Samples</text>
<text x="461.70" y="389.20" font-size="8.2" text-anchor="middle" fill="#161616" font-weight="normal" stroke="#161616" stroke-width="0.2">Partial Deficiency</text>
<text transform="translate(278.40,288.30) rotate(-90)" x="0" y="0" font-size="8.8" text-anchor="middle" fill="#161616" stroke="#161616" stroke-width="0.25" textLength="69" lengthAdjust="spacingAndGlyphs">Peak turbidity change</text>
<text x="274.60" y="209.90" font-size="12.2" text-anchor="middle" fill="#000" font-weight="bold" stroke="#000" stroke-width="0.55">D</text>
<circle cx="328.40" cy="247.30" r="3.6" fill="#8cc868" fill-opacity="0.16" stroke="#5f9c38" stroke-width="1.1"/>
<path d="M317.50 264.00L322.00 261.50L328.70 263.00L335.50 261.50L340.00 264.00L340.50 272.00L340.00 287.00L336.50 292.00L328.70 294.00L321.00 292.00L317.30 287.00L317.00 272.00Z" fill="#70b447" fill-opacity="0.5"/>
<circle cx="325.30" cy="257.00" r="3.6" fill="#8cc868" fill-opacity="0.16" stroke="#6aae42" stroke-width="1.1"/>
<circle cx="330.10" cy="257.00" r="3.6" fill="#8cc868" fill-opacity="0.16" stroke="#6aae42" stroke-width="1.1"/>
<circle cx="334.90" cy="257.00" r="3.6" fill="#8cc868" fill-opacity="0.16" stroke="#6aae42" stroke-width="1.1"/>
<circle cx="322.90" cy="261.00" r="3.6" fill="#8cc868" fill-opacity="0.16" stroke="#6aae42" stroke-width="1.1"/>
<circle cx="327.70" cy="261.00" r="3.6" fill="#8cc868" fill-opacity="0.16" stroke="#6aae42" stroke-width="1.1"/>
<circle cx="332.50" cy="261.00" r="3.6" fill="#8cc868" fill-opacity="0.16" stroke="#6aae42" stroke-width="1.1"/>
<circle cx="320.50" cy="265.00" r="3.6" fill="#8cc868" fill-opacity="0.16" stroke="#6aae42" stroke-width="1.1"/>
<circle cx="325.30" cy="265.00" r="3.6" fill="#8cc868" fill-opacity="0.16" stroke="#6aae42" stroke-width="1.1"/>
<circle cx="330.10" cy="265.00" r="3.6" fill="#8cc868" fill-opacity="0.16" stroke="#6aae42" stroke-width="1.1"/>
<circle cx="334.90" cy="265.00" r="3.6" fill="#8cc868" fill-opacity="0.16" stroke="#6aae42" stroke-width="1.1"/>
<circle cx="322.90" cy="269.00" r="3.6" fill="#8cc868" fill-opacity="0.16" stroke="#6aae42" stroke-width="1.1"/>
<circle cx="327.70" cy="269.00" r="3.6" fill="#8cc868" fill-opacity="0.16" stroke="#6aae42" stroke-width="1.1"/>
<circle cx="332.50" cy="269.00" r="3.6" fill="#8cc868" fill-opacity="0.16" stroke="#6aae42" stroke-width="1.1"/>
<circle cx="320.50" cy="273.00" r="3.6" fill="#8cc868" fill-opacity="0.16" stroke="#6aae42" stroke-width="1.1"/>
<circle cx="325.30" cy="273.00" r="3.6" fill="#8cc868" fill-opacity="0.16" stroke="#6aae42" stroke-width="1.1"/>
<circle cx="330.10" cy="273.00" r="3.6" fill="#8cc868" fill-opacity="0.16" stroke="#6aae42" stroke-width="1.1"/>
<circle cx="334.90" cy="273.00" r="3.6" fill="#8cc868" fill-opacity="0.16" stroke="#6aae42" stroke-width="1.1"/>
<circle cx="322.90" cy="277.00" r="3.6" fill="#8cc868" fill-opacity="0.16" stroke="#6aae42" stroke-width="1.1"/>
<circle cx="327.70" cy="277.00" r="3.6" fill="#8cc868" fill-opacity="0.16" stroke="#6aae42" stroke-width="1.1"/>
<circle cx="332.50" cy="277.00" r="3.6" fill="#8cc868" fill-opacity="0.16" stroke="#6aae42" stroke-width="1.1"/>
<circle cx="320.50" cy="281.00" r="3.6" fill="#8cc868" fill-opacity="0.16" stroke="#6aae42" stroke-width="1.1"/>
<circle cx="325.30" cy="281.00" r="3.6" fill="#8cc868" fill-opacity="0.16" stroke="#6aae42" stroke-width="1.1"/>
<circle cx="330.10" cy="281.00" r="3.6" fill="#8cc868" fill-opacity="0.16" stroke="#6aae42" stroke-width="1.1"/>
<circle cx="334.90" cy="281.00" r="3.6" fill="#8cc868" fill-opacity="0.16" stroke="#6aae42" stroke-width="1.1"/>
<circle cx="322.90" cy="285.00" r="3.6" fill="#8cc868" fill-opacity="0.16" stroke="#6aae42" stroke-width="1.1"/>
<circle cx="327.70" cy="285.00" r="3.6" fill="#8cc868" fill-opacity="0.16" stroke="#6aae42" stroke-width="1.1"/>
<circle cx="332.50" cy="285.00" r="3.6" fill="#8cc868" fill-opacity="0.16" stroke="#6aae42" stroke-width="1.1"/>
<circle cx="325.30" cy="289.00" r="3.6" fill="#8cc868" fill-opacity="0.16" stroke="#6aae42" stroke-width="1.1"/>
<circle cx="330.10" cy="289.00" r="3.6" fill="#8cc868" fill-opacity="0.16" stroke="#6aae42" stroke-width="1.1"/>
<circle cx="334.90" cy="289.00" r="3.6" fill="#8cc868" fill-opacity="0.16" stroke="#6aae42" stroke-width="1.1"/>
<circle cx="322.90" cy="293.00" r="3.6" fill="#8cc868" fill-opacity="0.16" stroke="#6aae42" stroke-width="1.1"/>
<circle cx="327.70" cy="293.00" r="3.6" fill="#8cc868" fill-opacity="0.16" stroke="#6aae42" stroke-width="1.1"/>
<circle cx="332.50" cy="293.00" r="3.6" fill="#8cc868" fill-opacity="0.16" stroke="#6aae42" stroke-width="1.1"/>
<circle cx="325.30" cy="297.00" r="3.6" fill="#8cc868" fill-opacity="0.16" stroke="#6aae42" stroke-width="1.1"/>
<circle cx="330.10" cy="297.00" r="3.6" fill="#8cc868" fill-opacity="0.16" stroke="#6aae42" stroke-width="1.1"/>
<circle cx="321.00" cy="256.00" r="3.6" fill="#8cc868" fill-opacity="0.16" stroke="#6aae42" stroke-width="1.1"/>
<circle cx="328.70" cy="255.30" r="3.6" fill="#8cc868" fill-opacity="0.16" stroke="#6aae42" stroke-width="1.1"/>
<circle cx="336.40" cy="256.00" r="3.6" fill="#8cc868" fill-opacity="0.16" stroke="#6aae42" stroke-width="1.1"/>
<circle cx="320.00" cy="262.00" r="3.6" fill="#8cc868" fill-opacity="0.16" stroke="#6aae42" stroke-width="1.1"/>
<circle cx="337.40" cy="262.00" r="3.6" fill="#8cc868" fill-opacity="0.16" stroke="#6aae42" stroke-width="1.1"/>
<circle cx="320.20" cy="290.00" r="3.6" fill="#8cc868" fill-opacity="0.16" stroke="#6aae42" stroke-width="1.1"/>
<circle cx="337.20" cy="290.00" r="3.6" fill="#8cc868" fill-opacity="0.16" stroke="#6aae42" stroke-width="1.1"/>
<circle cx="323.50" cy="297.00" r="3.6" fill="#8cc868" fill-opacity="0.16" stroke="#6aae42" stroke-width="1.1"/>
<circle cx="334.00" cy="297.00" r="3.6" fill="#8cc868" fill-opacity="0.16" stroke="#6aae42" stroke-width="1.1"/>
<circle cx="328.70" cy="302.00" r="3.6" fill="#8cc868" fill-opacity="0.16" stroke="#6aae42" stroke-width="1.1"/>
<line x1="315.50" y1="277.00" x2="341.90" y2="277.00" stroke="#111" stroke-width="1.3"/>
<line x1="328.70" y1="268.20" x2="328.70" y2="286.30" stroke="#111" stroke-width="1.3"/>
<line x1="322.70" y1="268.20" x2="334.70" y2="268.20" stroke="#111" stroke-width="1.3"/>
<line x1="322.70" y1="286.30" x2="334.70" y2="286.30" stroke="#111" stroke-width="1.3"/>
<rect x="362.90" y="217.70" width="7.80" height="7.80" fill="none" stroke="#2b3e65" stroke-width="1.15"/>
<rect x="369.90" y="234.90" width="7.80" height="7.80" fill="none" stroke="#2b3e65" stroke-width="1.15"/>
<rect x="355.80" y="240.30" width="7.80" height="7.80" fill="none" stroke="#2b3e65" stroke-width="1.15"/>
<rect x="356.10" y="245.60" width="7.80" height="7.80" fill="none" stroke="#2b3e65" stroke-width="1.15"/>
<rect x="368.80" y="242.50" width="7.80" height="7.80" fill="none" stroke="#2b3e65" stroke-width="1.15"/>
<rect x="360.10" y="249.10" width="7.80" height="7.80" fill="none" stroke="#2b3e65" stroke-width="1.15"/>
<rect x="367.10" y="250.10" width="7.80" height="7.80" fill="none" stroke="#2b3e65" stroke-width="1.15"/>
<rect x="362.10" y="255.10" width="7.80" height="7.80" fill="none" stroke="#2b3e65" stroke-width="1.15"/>
<rect x="370.10" y="257.10" width="7.80" height="7.80" fill="none" stroke="#2b3e65" stroke-width="1.15"/>
<rect x="358.10" y="260.10" width="7.80" height="7.80" fill="none" stroke="#2b3e65" stroke-width="1.15"/>
<rect x="355.60" y="261.10" width="7.80" height="7.80" fill="none" stroke="#2b3e65" stroke-width="1.15"/>
<rect x="362.60" y="260.60" width="7.80" height="7.80" fill="none" stroke="#2b3e65" stroke-width="1.15"/>
<rect x="370.60" y="261.10" width="7.80" height="7.80" fill="none" stroke="#2b3e65" stroke-width="1.15"/>
<rect x="367.60" y="269.60" width="7.80" height="7.80" fill="none" stroke="#2d4778" stroke-width="1.15"/>
<rect x="356.35" y="272.10" width="7.80" height="7.80" fill="none" stroke="#2d4778" stroke-width="1.15"/>
<rect x="358.85" y="272.10" width="7.80" height="7.80" fill="none" stroke="#2d4778" stroke-width="1.15"/>
<rect x="361.35" y="272.10" width="7.80" height="7.80" fill="none" stroke="#2d4778" stroke-width="1.15"/>
<rect x="363.85" y="272.10" width="7.80" height="7.80" fill="none" stroke="#2d4778" stroke-width="1.15"/>
<rect x="366.35" y="272.10" width="7.80" height="7.80" fill="none" stroke="#2d4778" stroke-width="1.15"/>
<rect x="368.85" y="272.10" width="7.80" height="7.80" fill="none" stroke="#2d4778" stroke-width="1.15"/>
<rect x="371.35" y="272.10" width="7.80" height="7.80" fill="none" stroke="#2d4778" stroke-width="1.15"/>
<rect x="355.10" y="274.60" width="7.80" height="7.80" fill="none" stroke="#2d4778" stroke-width="1.15"/>
<rect x="357.60" y="274.60" width="7.80" height="7.80" fill="none" stroke="#2d4778" stroke-width="1.15"/>
<rect x="360.10" y="274.60" width="7.80" height="7.80" fill="none" stroke="#2d4778" stroke-width="1.15"/>
<rect x="362.60" y="274.60" width="7.80" height="7.80" fill="none" stroke="#2d4778" stroke-width="1.15"/>
<rect x="365.10" y="274.60" width="7.80" height="7.80" fill="none" stroke="#2d4778" stroke-width="1.15"/>
<rect x="367.60" y="274.60" width="7.80" height="7.80" fill="none" stroke="#2d4778" stroke-width="1.15"/>
<rect x="370.10" y="274.60" width="7.80" height="7.80" fill="none" stroke="#2d4778" stroke-width="1.15"/>
<rect x="358.85" y="277.10" width="7.80" height="7.80" fill="none" stroke="#2d4778" stroke-width="1.15"/>
<rect x="361.35" y="277.10" width="7.80" height="7.80" fill="none" stroke="#2d4778" stroke-width="1.15"/>
<rect x="363.85" y="277.10" width="7.80" height="7.80" fill="none" stroke="#2d4778" stroke-width="1.15"/>
<rect x="366.35" y="277.10" width="7.80" height="7.80" fill="none" stroke="#2d4778" stroke-width="1.15"/>
<rect x="368.85" y="277.10" width="7.80" height="7.80" fill="none" stroke="#2d4778" stroke-width="1.15"/>
<rect x="360.10" y="279.60" width="7.80" height="7.80" fill="none" stroke="#2d4778" stroke-width="1.15"/>
<rect x="362.60" y="279.60" width="7.80" height="7.80" fill="none" stroke="#2d4778" stroke-width="1.15"/>
<rect x="365.10" y="279.60" width="7.80" height="7.80" fill="none" stroke="#2d4778" stroke-width="1.15"/>
<rect x="367.60" y="279.60" width="7.80" height="7.80" fill="none" stroke="#2d4778" stroke-width="1.15"/>
<rect x="363.85" y="282.10" width="7.80" height="7.80" fill="none" stroke="#2d4778" stroke-width="1.15"/>
<rect x="355.60" y="270.10" width="7.80" height="7.80" fill="none" stroke="#2d4778" stroke-width="1.15"/>
<rect x="358.19" y="269.73" width="7.80" height="7.80" fill="none" stroke="#2d4778" stroke-width="1.15"/>
<rect x="360.69" y="270.17" width="7.80" height="7.80" fill="none" stroke="#2d4778" stroke-width="1.15"/>
<rect x="363.15" y="271.05" width="7.80" height="7.80" fill="none" stroke="#2d4778" stroke-width="1.15"/>
<rect x="365.61" y="270.26" width="7.80" height="7.80" fill="none" stroke="#2d4778" stroke-width="1.15"/>
<rect x="368.10" y="269.69" width="7.80" height="7.80" fill="none" stroke="#2d4778" stroke-width="1.15"/>
<rect x="370.69" y="270.04" width="7.80" height="7.80" fill="none" stroke="#2d4778" stroke-width="1.15"/>
<rect x="371.34" y="272.28" width="7.80" height="7.80" fill="none" stroke="#2d4778" stroke-width="1.15"/>
<rect x="371.43" y="274.82" width="7.80" height="7.80" fill="none" stroke="#2d4778" stroke-width="1.15"/>
<rect x="369.82" y="276.89" width="7.80" height="7.80" fill="none" stroke="#2d4778" stroke-width="1.15"/>
<rect x="368.22" y="278.95" width="7.80" height="7.80" fill="none" stroke="#2d4778" stroke-width="1.15"/>
<rect x="366.33" y="280.76" width="7.80" height="7.80" fill="none" stroke="#2d4778" stroke-width="1.15"/>
<rect x="364.43" y="282.54" width="7.80" height="7.80" fill="none" stroke="#2d4778" stroke-width="1.15"/>
<rect x="362.52" y="282.87" width="7.80" height="7.80" fill="none" stroke="#2d4778" stroke-width="1.15"/>
<rect x="360.61" y="281.08" width="7.80" height="7.80" fill="none" stroke="#2d4778" stroke-width="1.15"/>
<rect x="358.71" y="279.29" width="7.80" height="7.80" fill="none" stroke="#2d4778" stroke-width="1.15"/>
<rect x="357.10" y="277.24" width="7.80" height="7.80" fill="none" stroke="#2d4778" stroke-width="1.15"/>
<rect x="355.52" y="275.16" width="7.80" height="7.80" fill="none" stroke="#2d4778" stroke-width="1.15"/>
<rect x="355.31" y="272.70" width="7.80" height="7.80" fill="none" stroke="#2d4778" stroke-width="1.15"/>
<rect x="355.80" y="290.00" width="7.80" height="7.80" fill="none" stroke="#2b3e65" stroke-width="1.15"/>
<rect x="366.60" y="290.00" width="7.80" height="7.80" fill="none" stroke="#2b3e65" stroke-width="1.15"/>
<rect x="360.10" y="297.50" width="7.80" height="7.80" fill="none" stroke="#2b3e65" stroke-width="1.15"/>
<rect x="367.40" y="294.10" width="7.80" height="7.80" fill="none" stroke="#2b3e65" stroke-width="1.15"/>
<rect x="357.10" y="307.80" width="7.80" height="7.80" fill="none" stroke="#2b3e65" stroke-width="1.15"/>
<rect x="369.50" y="318.10" width="7.80" height="7.80" fill="none" stroke="#2b3e65" stroke-width="1.15"/>
<rect x="357.10" y="354.50" width="7.80" height="7.80" fill="none" stroke="#2b3e65" stroke-width="1.15"/>
<rect x="369.50" y="354.50" width="7.80" height="7.80" fill="none" stroke="#2b3e65" stroke-width="1.15"/>
<line x1="354.20" y1="281.00" x2="380.20" y2="281.00" stroke="#111" stroke-width="1.3"/>
<line x1="367.20" y1="270.50" x2="367.20" y2="289.00" stroke="#111" stroke-width="1.3"/>
<line x1="360.90" y1="270.50" x2="373.50" y2="270.50" stroke="#111" stroke-width="1.3"/>
<line x1="360.90" y1="289.00" x2="373.50" y2="289.00" stroke="#111" stroke-width="1.3"/>
<path d="M405.60 233.20L409.70 237.30L405.60 241.40L401.50 237.30Z" fill="none" stroke="#9c1438" stroke-width="1.35"/>
<path d="M398.30 244.60L402.40 248.70L398.30 252.80L394.20 248.70Z" fill="none" stroke="#9c1438" stroke-width="1.35"/>
<path d="M412.40 244.60L416.50 248.70L412.40 252.80L408.30 248.70Z" fill="none" stroke="#9c1438" stroke-width="1.35"/>
<path d="M405.60 254.50L409.70 258.60L405.60 262.70L401.50 258.60Z" fill="none" stroke="#9c1438" stroke-width="1.35"/>
<path d="M399.40 261.10L403.50 265.20L399.40 269.30L395.30 265.20Z" fill="none" stroke="#9c1438" stroke-width="1.35"/>
<path d="M411.10 261.10L415.20 265.20L411.10 269.30L407.00 265.20Z" fill="none" stroke="#9c1438" stroke-width="1.35"/>
<path d="M403.50 265.20L407.60 269.30L403.50 273.40L399.40 269.30Z" fill="none" stroke="#9c1438" stroke-width="1.35"/>
<path d="M397.30 271.00L401.40 275.10L397.30 279.20L393.20 275.10Z" fill="none" stroke="#9c1438" stroke-width="1.35"/>
<path d="M412.80 271.00L416.90 275.10L412.80 279.20L408.70 275.10Z" fill="none" stroke="#9c1438" stroke-width="1.35"/>
<path d="M403.00 277.90L407.10 282.00L403.00 286.10L398.90 282.00Z" fill="none" stroke="#9c1438" stroke-width="1.35"/>
<path d="M412.00 277.90L416.10 282.00L412.00 286.10L407.90 282.00Z" fill="none" stroke="#9c1438" stroke-width="1.35"/>
<path d="M399.00 284.90L403.10 289.00L399.00 293.10L394.90 289.00Z" fill="none" stroke="#9c1438" stroke-width="1.35"/>
<path d="M410.00 283.90L414.10 288.00L410.00 292.10L405.90 288.00Z" fill="none" stroke="#9c1438" stroke-width="1.35"/>
<path d="M404.00 290.90L408.10 295.00L404.00 299.10L399.90 295.00Z" fill="none" stroke="#9c1438" stroke-width="1.35"/>
<path d="M397.50 291.90L401.60 296.00L397.50 300.10L393.40 296.00Z" fill="none" stroke="#9c1438" stroke-width="1.35"/>
<path d="M412.00 295.40L416.10 299.50L412.00 303.60L407.90 299.50Z" fill="none" stroke="#9c1438" stroke-width="1.35"/>
<path d="M405.00 295.90L409.10 300.00L405.00 304.10L400.90 300.00Z" fill="none" stroke="#9c1438" stroke-width="1.35"/>
<path d="M398.50 297.90L402.60 302.00L398.50 306.10L394.40 302.00Z" fill="none" stroke="#9c1438" stroke-width="1.35"/>
<path d="M410.00 299.90L414.10 304.00L410.00 308.10L405.90 304.00Z" fill="none" stroke="#9c1438" stroke-width="1.35"/>
<path d="M405.80 354.30L409.90 358.40L405.80 362.50L401.70 358.40Z" fill="none" stroke="#9c1438" stroke-width="1.35"/>
<path d="M407.00 271.90L411.10 276.00L407.00 280.10L402.90 276.00Z" fill="none" stroke="#9c1438" stroke-width="1.35"/>
<path d="M401.00 279.90L405.10 284.00L401.00 288.10L396.90 284.00Z" fill="none" stroke="#9c1438" stroke-width="1.35"/>
<path d="M406.00 285.90L410.10 290.00L406.00 294.10L401.90 290.00Z" fill="none" stroke="#9c1438" stroke-width="1.35"/>
<path d="M401.50 267.90L405.60 272.00L401.50 276.10L397.40 272.00Z" fill="none" stroke="#9c1438" stroke-width="1.35"/>
<path d="M409.50 266.90L413.60 271.00L409.50 275.10L405.40 271.00Z" fill="none" stroke="#9c1438" stroke-width="1.35"/>
<path d="M408.00 281.40L412.10 285.50L408.00 289.60L403.90 285.50Z" fill="none" stroke="#9c1438" stroke-width="1.35"/>
<path d="M402.50 288.40L406.60 292.50L402.50 296.60L398.40 292.50Z" fill="none" stroke="#9c1438" stroke-width="1.35"/>
<path d="M411.00 289.90L415.10 294.00L411.00 298.10L406.90 294.00Z" fill="none" stroke="#9c1438" stroke-width="1.35"/>
<path d="M401.50 294.40L405.60 298.50L401.50 302.60L397.40 298.50Z" fill="none" stroke="#9c1438" stroke-width="1.35"/>
<path d="M406.50 298.90L410.60 303.00L406.50 307.10L402.40 303.00Z" fill="none" stroke="#9c1438" stroke-width="1.35"/>
<path d="M403.50 274.90L407.60 279.00L403.50 283.10L399.40 279.00Z" fill="none" stroke="#9c1438" stroke-width="1.35"/>
<line x1="392.80" y1="278.60" x2="418.80" y2="278.60" stroke="#111" stroke-width="1.2"/>
<line x1="405.80" y1="266.20" x2="405.80" y2="291.00" stroke="#111" stroke-width="1.2"/>
<line x1="399.80" y1="266.20" x2="411.80" y2="266.20" stroke="#111" stroke-width="1.2"/>
<line x1="399.80" y1="291.00" x2="411.80" y2="291.00" stroke="#111" stroke-width="1.2"/>
<rect x="440.40" y="217.20" width="7.80" height="7.80" fill="none" stroke="#2b3e65" stroke-width="1.15"/>
<rect x="433.50" y="234.70" width="7.80" height="7.80" fill="none" stroke="#2b3e65" stroke-width="1.15"/>
<rect x="446.70" y="240.90" width="7.80" height="7.80" fill="none" stroke="#2b3e65" stroke-width="1.15"/>
<rect x="433.10" y="242.10" width="7.80" height="7.80" fill="none" stroke="#2b3e65" stroke-width="1.15"/>
<rect x="437.10" y="248.10" width="7.80" height="7.80" fill="none" stroke="#2b3e65" stroke-width="1.15"/>
<rect x="443.10" y="254.10" width="7.80" height="7.80" fill="none" stroke="#2b3e65" stroke-width="1.15"/>
<rect x="446.10" y="258.60" width="7.80" height="7.80" fill="none" stroke="#2b3e65" stroke-width="1.15"/>
<rect x="433.10" y="259.10" width="7.80" height="7.80" fill="none" stroke="#2b3e65" stroke-width="1.15"/>
<rect x="446.90" y="235.60" width="7.80" height="7.80" fill="none" stroke="#2b3e65" stroke-width="1.15"/>
<rect x="439.60" y="243.10" width="7.80" height="7.80" fill="none" stroke="#2b3e65" stroke-width="1.15"/>
<rect x="443.60" y="247.10" width="7.80" height="7.80" fill="none" stroke="#2b3e65" stroke-width="1.15"/>
<rect x="448.10" y="251.10" width="7.80" height="7.80" fill="none" stroke="#2b3e65" stroke-width="1.15"/>
<rect x="437.60" y="255.60" width="7.80" height="7.80" fill="none" stroke="#2b3e65" stroke-width="1.15"/>
<rect x="432.60" y="266.60" width="7.80" height="7.80" fill="none" stroke="#2b3e65" stroke-width="1.15"/>
<rect x="438.10" y="266.10" width="7.80" height="7.80" fill="none" stroke="#2b3e65" stroke-width="1.15"/>
<rect x="443.60" y="266.60" width="7.80" height="7.80" fill="none" stroke="#2b3e65" stroke-width="1.15"/>
<rect x="448.60" y="266.60" width="7.80" height="7.80" fill="none" stroke="#2b3e65" stroke-width="1.15"/>
<rect x="436.10" y="262.60" width="7.80" height="7.80" fill="none" stroke="#2b3e65" stroke-width="1.15"/>
<rect x="445.60" y="262.10" width="7.80" height="7.80" fill="none" stroke="#2b3e65" stroke-width="1.15"/>
<rect x="445.00" y="270.90" width="7.80" height="7.80" fill="none" stroke="#2d4778" stroke-width="1.15"/>
<rect x="433.75" y="273.40" width="7.80" height="7.80" fill="none" stroke="#2d4778" stroke-width="1.15"/>
<rect x="436.25" y="273.40" width="7.80" height="7.80" fill="none" stroke="#2d4778" stroke-width="1.15"/>
<rect x="438.75" y="273.40" width="7.80" height="7.80" fill="none" stroke="#2d4778" stroke-width="1.15"/>
<rect x="441.25" y="273.40" width="7.80" height="7.80" fill="none" stroke="#2d4778" stroke-width="1.15"/>
<rect x="443.75" y="273.40" width="7.80" height="7.80" fill="none" stroke="#2d4778" stroke-width="1.15"/>
<rect x="446.25" y="273.40" width="7.80" height="7.80" fill="none" stroke="#2d4778" stroke-width="1.15"/>
<rect x="435.00" y="275.90" width="7.80" height="7.80" fill="none" stroke="#2d4778" stroke-width="1.15"/>
<rect x="437.50" y="275.90" width="7.80" height="7.80" fill="none" stroke="#2d4778" stroke-width="1.15"/>
<rect x="440.00" y="275.90" width="7.80" height="7.80" fill="none" stroke="#2d4778" stroke-width="1.15"/>
<rect x="442.50" y="275.90" width="7.80" height="7.80" fill="none" stroke="#2d4778" stroke-width="1.15"/>
<rect x="445.00" y="275.90" width="7.80" height="7.80" fill="none" stroke="#2d4778" stroke-width="1.15"/>
<rect x="436.25" y="278.40" width="7.80" height="7.80" fill="none" stroke="#2d4778" stroke-width="1.15"/>
<rect x="438.75" y="278.40" width="7.80" height="7.80" fill="none" stroke="#2d4778" stroke-width="1.15"/>
<rect x="441.25" y="278.40" width="7.80" height="7.80" fill="none" stroke="#2d4778" stroke-width="1.15"/>
<rect x="443.75" y="278.40" width="7.80" height="7.80" fill="none" stroke="#2d4778" stroke-width="1.15"/>
<rect x="440.00" y="280.90" width="7.80" height="7.80" fill="none" stroke="#2d4778" stroke-width="1.15"/>
<rect x="432.60" y="271.60" width="7.80" height="7.80" fill="none" stroke="#2d4778" stroke-width="1.15"/>
<rect x="435.15" y="271.14" width="7.80" height="7.80" fill="none" stroke="#2d4778" stroke-width="1.15"/>
<rect x="437.64" y="271.34" width="7.80" height="7.80" fill="none" stroke="#2d4778" stroke-width="1.15"/>
<rect x="440.06" y="272.27" width="7.80" height="7.80" fill="none" stroke="#2d4778" stroke-width="1.15"/>
<rect x="442.47" y="271.60" width="7.80" height="7.80" fill="none" stroke="#2d4778" stroke-width="1.15"/>
<rect x="444.92" y="271.01" width="7.80" height="7.80" fill="none" stroke="#2d4778" stroke-width="1.15"/>
<rect x="447.47" y="271.48" width="7.80" height="7.80" fill="none" stroke="#2d4778" stroke-width="1.15"/>
<rect x="448.23" y="273.55" width="7.80" height="7.80" fill="none" stroke="#2d4778" stroke-width="1.15"/>
<rect x="447.27" y="275.74" width="7.80" height="7.80" fill="none" stroke="#2d4778" stroke-width="1.15"/>
<rect x="445.54" y="277.67" width="7.80" height="7.80" fill="none" stroke="#2d4778" stroke-width="1.15"/>
<rect x="443.66" y="279.44" width="7.80" height="7.80" fill="none" stroke="#2d4778" stroke-width="1.15"/>
<rect x="441.65" y="281.08" width="7.80" height="7.80" fill="none" stroke="#2d4778" stroke-width="1.15"/>
<rect x="439.64" y="281.49" width="7.80" height="7.80" fill="none" stroke="#2d4778" stroke-width="1.15"/>
<rect x="437.64" y="279.85" width="7.80" height="7.80" fill="none" stroke="#2d4778" stroke-width="1.15"/>
<rect x="435.69" y="278.15" width="7.80" height="7.80" fill="none" stroke="#2d4778" stroke-width="1.15"/>
<rect x="433.96" y="276.22" width="7.80" height="7.80" fill="none" stroke="#2d4778" stroke-width="1.15"/>
<rect x="432.51" y="274.19" width="7.80" height="7.80" fill="none" stroke="#2d4778" stroke-width="1.15"/>
<rect x="433.10" y="288.10" width="7.80" height="7.80" fill="none" stroke="#2b3e65" stroke-width="1.15"/>
<rect x="446.10" y="290.10" width="7.80" height="7.80" fill="none" stroke="#2b3e65" stroke-width="1.15"/>
<rect x="442.10" y="298.10" width="7.80" height="7.80" fill="none" stroke="#2b3e65" stroke-width="1.15"/>
<rect x="436.30" y="294.20" width="7.80" height="7.80" fill="none" stroke="#2b3e65" stroke-width="1.15"/>
<rect x="443.40" y="298.30" width="7.80" height="7.80" fill="none" stroke="#2b3e65" stroke-width="1.15"/>
<rect x="446.10" y="307.80" width="7.80" height="7.80" fill="none" stroke="#2b3e65" stroke-width="1.15"/>
<rect x="433.90" y="318.10" width="7.80" height="7.80" fill="none" stroke="#2b3e65" stroke-width="1.15"/>
<line x1="431.30" y1="280.00" x2="457.30" y2="280.00" stroke="#111" stroke-width="1.3"/>
<line x1="444.30" y1="267.20" x2="444.30" y2="289.50" stroke="#111" stroke-width="1.3"/>
<line x1="438.00" y1="267.20" x2="450.60" y2="267.20" stroke="#111" stroke-width="1.3"/>
<line x1="438.00" y1="289.50" x2="450.60" y2="289.50" stroke="#111" stroke-width="1.3"/>
<path d="M489.10 232.70L493.20 236.80L489.10 240.90L485.00 236.80Z" fill="none" stroke="#9c1438" stroke-width="1.35"/>
<path d="M474.80 244.10L478.90 248.20L474.80 252.30L470.70 248.20Z" fill="none" stroke="#9c1438" stroke-width="1.35"/>
<path d="M483.30 244.10L487.40 248.20L483.30 252.30L479.20 248.20Z" fill="none" stroke="#9c1438" stroke-width="1.35"/>
<path d="M474.80 253.70L478.90 257.80L474.80 261.90L470.70 257.80Z" fill="none" stroke="#9c1438" stroke-width="1.35"/>
<path d="M483.30 260.20L487.40 264.30L483.30 268.40L479.20 264.30Z" fill="none" stroke="#9c1438" stroke-width="1.35"/>
<path d="M489.10 259.20L493.20 263.30L489.10 267.40L485.00 263.30Z" fill="none" stroke="#9c1438" stroke-width="1.35"/>
<path d="M489.10 270.00L493.20 274.10L489.10 278.20L485.00 274.10Z" fill="none" stroke="#9c1438" stroke-width="1.35"/>
<path d="M474.80 273.90L478.90 278.00L474.80 282.10L470.70 278.00Z" fill="none" stroke="#9c1438" stroke-width="1.35"/>
<path d="M483.30 275.90L487.40 280.00L483.30 284.10L479.20 280.00Z" fill="none" stroke="#9c1438" stroke-width="1.35"/>
<path d="M474.80 279.80L478.90 283.90L474.80 288.00L470.70 283.90Z" fill="none" stroke="#9c1438" stroke-width="1.35"/>
<path d="M489.10 281.70L493.20 285.80L489.10 289.90L485.00 285.80Z" fill="none" stroke="#9c1438" stroke-width="1.35"/>
<path d="M478.70 286.60L482.80 290.70L478.70 294.80L474.60 290.70Z" fill="none" stroke="#9c1438" stroke-width="1.35"/>
<path d="M484.40 292.50L488.50 296.60L484.40 300.70L480.30 296.60Z" fill="none" stroke="#9c1438" stroke-width="1.35"/>
<line x1="469.50" y1="277.00" x2="495.50" y2="277.00" stroke="#111" stroke-width="1.2"/>
<line x1="482.50" y1="257.00" x2="482.50" y2="287.80" stroke="#111" stroke-width="1.2"/>
<line x1="477.50" y1="257.00" x2="487.50" y2="257.00" stroke="#111" stroke-width="1.2"/>
<line x1="477.50" y1="287.80" x2="487.50" y2="287.80" stroke="#111" stroke-width="1.2"/>
</svg>
<div class="bd" style="left:0;top:1px;width:520px;height:1px;background:#999"></div>
<div class="bd" style="left:1px;top:0;width:1px;height:398px;background:#888"></div>
<div class="bd" style="left:517px;top:0;width:1px;height:398px;background:#eee"></div>
<div class="bd" style="left:518px;top:0;width:1px;height:398px;background:#666"></div>
<div class="bd" style="left:0;top:395px;width:520px;height:1px;background:#eee"></div>
<div class="bd" style="left:0;top:396px;width:520px;height:1px;background:#444"></div>
<div class="bd" style="left:0;top:0;width:520px;height:1px"></div>
<div class="bd" style="left:0;top:0;width:1px;height:398px"></div>
<div class="bd" style="left:519px;top:0;width:1px;height:398px"></div>
<div class="bd" style="left:0;top:397px;width:520px;height:1px"></div>
</body></html>
